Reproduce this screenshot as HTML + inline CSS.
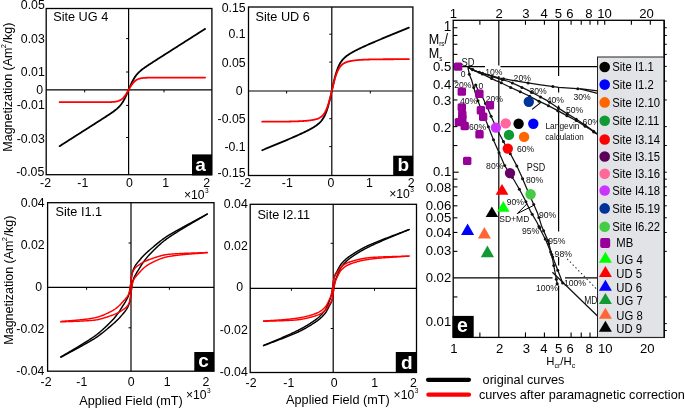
<!DOCTYPE html>
<html><head><meta charset="utf-8"><style>
html,body{margin:0;padding:0;background:#fff;width:685px;height:408px;overflow:hidden}
svg{display:block;font-family:"Liberation Sans", sans-serif;will-change:transform}
</style></head><body>
<svg width="685" height="408" viewBox="0 0 685 408">
<line x1="128.6" y1="8.5" x2="128.6" y2="174.7" stroke="#000" stroke-width="1.2" />
<line x1="46.2" y1="89.9" x2="211.9" y2="89.9" stroke="#000" stroke-width="1.2" />
<line x1="126.1" y1="38.6" x2="128.6" y2="38.6" stroke="#000" stroke-width="1.0" />
<line x1="126.1" y1="72" x2="128.6" y2="72" stroke="#000" stroke-width="1.0" />
<line x1="126.1" y1="105.4" x2="128.6" y2="105.4" stroke="#000" stroke-width="1.0" />
<line x1="126.1" y1="137.5" x2="128.6" y2="137.5" stroke="#000" stroke-width="1.0" />
<line x1="84.7" y1="89.9" x2="84.7" y2="92.4" stroke="#000" stroke-width="1.0" />
<line x1="164" y1="89.9" x2="164" y2="92.4" stroke="#000" stroke-width="1.0" />
<path d="M59.6,146.15 L60.21,145.77 L60.81,145.38 L61.42,144.99 L62.02,144.61 L62.63,144.22 L63.24,143.84 L63.84,143.45 L64.45,143.06 L65.06,142.68 L65.66,142.29 L66.27,141.91 L66.88,141.52 L67.48,141.13 L68.09,140.75 L68.69,140.36 L69.3,139.97 L69.91,139.59 L70.51,139.2 L71.12,138.82 L71.72,138.43 L72.33,138.04 L72.94,137.66 L73.54,137.27 L74.15,136.88 L74.76,136.5 L75.36,136.11 L75.97,135.73 L76.57,135.34 L77.18,134.95 L77.79,134.57 L78.39,134.18 L79,133.8 L79.61,133.41 L80.21,133.02 L80.82,132.64 L81.42,132.25 L82.03,131.86 L82.64,131.48 L83.24,131.09 L83.85,130.71 L84.46,130.32 L85.06,129.93 L85.67,129.55 L86.27,129.16 L86.88,128.77 L87.49,128.39 L88.09,128 L88.7,127.62 L89.31,127.23 L89.91,126.84 L90.52,126.46 L91.12,126.07 L91.73,125.68 L92.34,125.3 L92.94,124.91 L93.55,124.53 L94.16,124.14 L94.76,123.75 L95.37,123.37 L95.97,122.98 L96.58,122.59 L97.19,122.21 L97.79,121.82 L98.4,121.43 L99.01,121.05 L99.61,120.66 L100.22,120.27 L100.82,119.88 L101.43,119.5 L102.04,119.11 L102.64,118.72 L103.25,118.33 L103.86,117.94 L104.46,117.55 L105.07,117.16 L105.67,116.77 L106.28,116.38 L106.89,115.98 L107.49,115.59 L108.1,115.19 L108.71,114.79 L109.31,114.39 L109.92,113.98 L110.52,113.57 L111.13,113.16 L111.74,112.74 L112.34,112.32 L112.95,111.89 L113.56,111.45 L114.16,111.01 L114.77,110.55 L115.38,110.07 L115.98,109.59 L116.59,109.08 L117.19,108.56 L117.8,108 L118.41,107.43 L119.01,106.81 L119.62,106.17 L120.22,105.48 L120.83,104.74 L121.44,103.95 L122.04,103.1 L122.65,102.19 L123.26,101.21 L123.86,100.17 L124.47,99.05 L125.07,97.86 L125.68,96.61 L126.29,95.29 L126.89,93.93 L127.5,92.52 L128.11,91.08 L128.71,89.63 L129.32,88.18 L129.93,86.76 L130.53,85.36 L131.14,84.01 L131.74,82.72 L132.35,81.49 L132.96,80.33 L133.56,79.24 L134.17,78.22 L134.77,77.26 L135.38,76.38 L135.99,75.55 L136.59,74.78 L137.2,74.06 L137.81,73.39 L138.41,72.75 L139.02,72.16 L139.62,71.59 L140.23,71.05 L140.84,70.53 L141.44,70.03 L142.05,69.55 L142.66,69.08 L143.26,68.63 L143.87,68.18 L144.47,67.75 L145.08,67.32 L145.69,66.9 L146.29,66.48 L146.9,66.07 L147.51,65.67 L148.11,65.26 L148.72,64.86 L149.32,64.46 L149.93,64.07 L150.54,63.67 L151.14,63.28 L151.75,62.89 L152.36,62.49 L152.96,62.1 L153.57,61.71 L154.18,61.33 L154.78,60.94 L155.39,60.55 L155.99,60.16 L156.6,59.77 L157.21,59.38 L157.81,59 L158.42,58.61 L159.02,58.22 L159.63,57.84 L160.24,57.45 L160.84,57.06 L161.45,56.68 L162.06,56.29 L162.66,55.9 L163.27,55.52 L163.88,55.13 L164.48,54.74 L165.09,54.36 L165.69,53.97 L166.3,53.59 L166.91,53.2 L167.51,52.81 L168.12,52.43 L168.72,52.04 L169.33,51.65 L169.94,51.27 L170.54,50.88 L171.15,50.5 L171.76,50.11 L172.36,49.72 L172.97,49.34 L173.57,48.95 L174.18,48.56 L174.79,48.18 L175.39,47.79 L176,47.41 L176.61,47.02 L177.21,46.63 L177.82,46.25 L178.43,45.86 L179.03,45.48 L179.64,45.09 L180.24,44.7 L180.85,44.32 L181.46,43.93 L182.06,43.54 L182.67,43.16 L183.27,42.77 L183.88,42.39 L184.49,42 L185.09,41.61 L185.7,41.23 L186.31,40.84 L186.91,40.45 L187.52,40.07 L188.12,39.68 L188.73,39.3 L189.34,38.91 L189.94,38.52 L190.55,38.14 L191.16,37.75 L191.76,37.37 L192.37,36.98 L192.97,36.59 L193.58,36.21 L194.19,35.82 L194.79,35.43 L195.4,35.05 L196.01,34.66 L196.61,34.28 L197.22,33.89 L197.82,33.5 L198.43,33.12 L199.04,32.73 L199.64,32.35 L200.25,31.96 L200.86,31.57 L201.46,31.19 L202.07,30.8 L202.67,30.41 L203.28,30.03 L203.89,29.64 L204.49,29.26 L205.1,28.87" fill="none" stroke="#000" stroke-width="1.8" stroke-linejoin="round" stroke-linecap="round"/>
<path d="M59.6,102.2 L60.21,102.2 L60.81,102.2 L61.42,102.2 L62.02,102.2 L62.63,102.2 L63.24,102.2 L63.84,102.2 L64.45,102.2 L65.06,102.2 L65.66,102.2 L66.27,102.2 L66.88,102.2 L67.48,102.2 L68.09,102.2 L68.69,102.2 L69.3,102.2 L69.91,102.2 L70.51,102.2 L71.12,102.2 L71.72,102.2 L72.33,102.2 L72.94,102.2 L73.54,102.2 L74.15,102.2 L74.76,102.2 L75.36,102.2 L75.97,102.2 L76.57,102.2 L77.18,102.2 L77.79,102.2 L78.39,102.2 L79,102.2 L79.61,102.2 L80.21,102.2 L80.82,102.2 L81.42,102.2 L82.03,102.2 L82.64,102.2 L83.24,102.2 L83.85,102.2 L84.46,102.2 L85.06,102.2 L85.67,102.2 L86.27,102.2 L86.88,102.2 L87.49,102.2 L88.09,102.2 L88.7,102.2 L89.31,102.2 L89.91,102.2 L90.52,102.2 L91.12,102.2 L91.73,102.2 L92.34,102.2 L92.94,102.2 L93.55,102.2 L94.16,102.2 L94.76,102.2 L95.37,102.2 L95.97,102.2 L96.58,102.2 L97.19,102.2 L97.79,102.2 L98.4,102.2 L99.01,102.19 L99.61,102.19 L100.22,102.19 L100.82,102.19 L101.43,102.19 L102.04,102.19 L102.64,102.19 L103.25,102.18 L103.86,102.18 L104.46,102.18 L105.07,102.17 L105.67,102.16 L106.28,102.16 L106.89,102.15 L107.49,102.14 L108.1,102.13 L108.71,102.12 L109.31,102.1 L109.92,102.08 L110.52,102.06 L111.13,102.03 L111.74,102 L112.34,101.97 L112.95,101.92 L113.56,101.87 L114.16,101.81 L114.77,101.74 L115.38,101.65 L115.98,101.55 L116.59,101.43 L117.19,101.29 L117.8,101.12 L118.41,100.93 L119.01,100.71 L119.62,100.44 L120.22,100.14 L120.83,99.79 L121.44,99.39 L122.04,98.92 L122.65,98.4 L123.26,97.81 L123.86,97.15 L124.47,96.42 L125.07,95.62 L125.68,94.75 L126.29,93.82 L126.89,92.84 L127.5,91.82 L128.11,90.77 L128.71,89.7 L129.32,88.64 L129.93,87.6 L130.53,86.59 L131.14,85.63 L131.74,84.72 L132.35,83.88 L132.96,83.1 L133.56,82.4 L134.17,81.76 L134.77,81.2 L135.38,80.7 L135.99,80.26 L136.59,79.87 L137.2,79.54 L137.81,79.25 L138.41,79.01 L139.02,78.79 L139.62,78.61 L140.23,78.46 L140.84,78.32 L141.44,78.21 L142.05,78.12 L142.66,78.04 L143.26,77.97 L143.87,77.91 L144.47,77.86 L145.08,77.82 L145.69,77.79 L146.29,77.76 L146.9,77.73 L147.51,77.71 L148.11,77.69 L148.72,77.68 L149.32,77.67 L149.93,77.66 L150.54,77.65 L151.14,77.64 L151.75,77.63 L152.36,77.63 L152.96,77.62 L153.57,77.62 L154.18,77.62 L154.78,77.61 L155.39,77.61 L155.99,77.61 L156.6,77.61 L157.21,77.61 L157.81,77.61 L158.42,77.6 L159.02,77.6 L159.63,77.6 L160.24,77.6 L160.84,77.6 L161.45,77.6 L162.06,77.6 L162.66,77.6 L163.27,77.6 L163.88,77.6 L164.48,77.6 L165.09,77.6 L165.69,77.6 L166.3,77.6 L166.91,77.6 L167.51,77.6 L168.12,77.6 L168.72,77.6 L169.33,77.6 L169.94,77.6 L170.54,77.6 L171.15,77.6 L171.76,77.6 L172.36,77.6 L172.97,77.6 L173.57,77.6 L174.18,77.6 L174.79,77.6 L175.39,77.6 L176,77.6 L176.61,77.6 L177.21,77.6 L177.82,77.6 L178.43,77.6 L179.03,77.6 L179.64,77.6 L180.24,77.6 L180.85,77.6 L181.46,77.6 L182.06,77.6 L182.67,77.6 L183.27,77.6 L183.88,77.6 L184.49,77.6 L185.09,77.6 L185.7,77.6 L186.31,77.6 L186.91,77.6 L187.52,77.6 L188.12,77.6 L188.73,77.6 L189.34,77.6 L189.94,77.6 L190.55,77.6 L191.16,77.6 L191.76,77.6 L192.37,77.6 L192.97,77.6 L193.58,77.6 L194.19,77.6 L194.79,77.6 L195.4,77.6 L196.01,77.6 L196.61,77.6 L197.22,77.6 L197.82,77.6 L198.43,77.6 L199.04,77.6 L199.64,77.6 L200.25,77.6 L200.86,77.6 L201.46,77.6 L202.07,77.6 L202.67,77.6 L203.28,77.6 L203.89,77.6 L204.49,77.6 L205.1,77.6" fill="none" stroke="#ff0000" stroke-width="1.8" stroke-linejoin="round" stroke-linecap="round"/>
<rect x="46.2" y="8.5" width="165.7" height="166.2" fill="none" stroke="#000" stroke-width="1.3"/>
<text x="44.8" y="9.4" font-size="12.3" text-anchor="end" fill="#000" >0.05</text>
<text x="44.8" y="42.6" font-size="12.3" text-anchor="end" fill="#000" >0.03</text>
<text x="44.8" y="76.1" font-size="12.3" text-anchor="end" fill="#000" >0.01</text>
<text x="43.2" y="94.4" font-size="12.3" text-anchor="end" fill="#000" >0</text>
<text x="44.8" y="109.4" font-size="12.3" text-anchor="end" fill="#000" >-0.01</text>
<text x="44.8" y="143.2" font-size="12.3" text-anchor="end" fill="#000" >-0.03</text>
<text x="44.3" y="176.1" font-size="12.3" text-anchor="end" fill="#000" >-0.05</text>
<text x="45.5" y="187" font-size="12.3" text-anchor="middle" fill="#000" >-2</text>
<text x="82.8" y="187" font-size="12.3" text-anchor="middle" fill="#000" >-1</text>
<text x="129.5" y="187" font-size="12.3" text-anchor="middle" fill="#000" >0</text>
<text x="165.6" y="187" font-size="12.3" text-anchor="middle" fill="#000" >1</text>
<text x="206.6" y="187" font-size="12.3" text-anchor="middle" fill="#000" >2</text>
<text x="183.9" y="198.6" font-size="12.2">×10<tspan font-size="6.5" dx="0.4" dy="-5.9">3</tspan></text>
<text x="53.2" y="21.2" font-size="12.7" text-anchor="start" fill="#000" >Site UG 4</text>
<rect x="192" y="154.4" width="20" height="21" fill="#000" />
<text x="200.6" y="171.1" font-size="19" text-anchor="middle" fill="#fff" font-weight="bold">a</text>
<line x1="331.8" y1="7" x2="331.8" y2="175.5" stroke="#000" stroke-width="1.2" />
<line x1="248.5" y1="91" x2="412.9" y2="91" stroke="#000" stroke-width="1.2" />
<line x1="329.3" y1="34.2" x2="331.8" y2="34.2" stroke="#000" stroke-width="1.0" />
<line x1="329.3" y1="62.1" x2="331.8" y2="62.1" stroke="#000" stroke-width="1.0" />
<line x1="329.3" y1="118.7" x2="331.8" y2="118.7" stroke="#000" stroke-width="1.0" />
<line x1="329.3" y1="146.6" x2="331.8" y2="146.6" stroke="#000" stroke-width="1.0" />
<line x1="286.6" y1="91" x2="286.6" y2="93.5" stroke="#000" stroke-width="1.0" />
<line x1="370.3" y1="91" x2="370.3" y2="93.5" stroke="#000" stroke-width="1.0" />
<path d="M262.2,150.21 L262.81,149.96 L263.42,149.71 L264.03,149.46 L264.64,149.21 L265.26,148.95 L265.87,148.7 L266.48,148.45 L267.09,148.2 L267.7,147.95 L268.31,147.7 L268.92,147.44 L269.54,147.19 L270.15,146.94 L270.76,146.69 L271.37,146.43 L271.98,146.18 L272.59,145.93 L273.2,145.68 L273.81,145.42 L274.43,145.17 L275.04,144.92 L275.65,144.66 L276.26,144.41 L276.87,144.16 L277.48,143.9 L278.09,143.65 L278.7,143.4 L279.31,143.14 L279.93,142.89 L280.54,142.63 L281.15,142.38 L281.76,142.12 L282.37,141.87 L282.98,141.61 L283.59,141.35 L284.21,141.1 L284.82,140.84 L285.43,140.58 L286.04,140.32 L286.65,140.07 L287.26,139.81 L287.87,139.55 L288.48,139.29 L289.1,139.03 L289.71,138.77 L290.32,138.5 L290.93,138.24 L291.54,137.98 L292.15,137.71 L292.76,137.45 L293.37,137.18 L293.99,136.92 L294.6,136.65 L295.21,136.38 L295.82,136.11 L296.43,135.84 L297.04,135.57 L297.65,135.3 L298.26,135.02 L298.88,134.74 L299.49,134.47 L300.1,134.19 L300.71,133.91 L301.32,133.62 L301.93,133.34 L302.54,133.05 L303.15,132.76 L303.76,132.47 L304.38,132.18 L304.99,131.88 L305.6,131.58 L306.21,131.28 L306.82,130.97 L307.43,130.66 L308.04,130.35 L308.66,130.03 L309.27,129.71 L309.88,129.38 L310.49,129.05 L311.1,128.71 L311.71,128.37 L312.32,128.02 L312.93,127.66 L313.55,127.29 L314.16,126.91 L314.77,126.52 L315.38,126.12 L315.99,125.7 L316.6,125.26 L317.21,124.81 L317.82,124.33 L318.44,123.82 L319.05,123.28 L319.66,122.71 L320.27,122.1 L320.88,121.43 L321.49,120.71 L322.1,119.92 L322.71,119.06 L323.32,118.11 L323.94,117.06 L324.55,115.9 L325.16,114.61 L325.77,113.18 L326.38,111.6 L326.99,109.86 L327.6,107.95 L328.22,105.87 L328.83,103.63 L329.44,101.24 L330.05,98.71 L330.66,96.08 L331.27,93.37 L331.88,90.62 L332.49,87.79 L333.11,85.01 L333.72,82.32 L334.33,79.74 L334.94,77.31 L335.55,75.04 L336.16,72.95 L336.77,71.03 L337.38,69.28 L338,67.7 L338.61,66.26 L339.22,64.97 L339.83,63.81 L340.44,62.76 L341.05,61.81 L341.66,60.95 L342.27,60.16 L342.88,59.44 L343.5,58.77 L344.11,58.16 L344.72,57.58 L345.33,57.04 L345.94,56.54 L346.55,56.06 L347.16,55.6 L347.78,55.16 L348.39,54.74 L349,54.34 L349.61,53.94 L350.22,53.56 L350.83,53.19 L351.44,52.83 L352.05,52.48 L352.67,52.13 L353.28,51.79 L353.89,51.46 L354.5,51.13 L355.11,50.81 L355.72,50.49 L356.33,50.18 L356.94,49.87 L357.56,49.56 L358.17,49.26 L358.78,48.95 L359.39,48.66 L360,48.36 L360.61,48.07 L361.22,47.78 L361.83,47.49 L362.44,47.21 L363.06,46.92 L363.67,46.64 L364.28,46.36 L364.89,46.08 L365.5,45.81 L366.11,45.53 L366.72,45.26 L367.34,44.99 L367.95,44.71 L368.56,44.44 L369.17,44.18 L369.78,43.91 L370.39,43.64 L371,43.37 L371.61,43.11 L372.23,42.85 L372.84,42.58 L373.45,42.32 L374.06,42.06 L374.67,41.8 L375.28,41.54 L375.89,41.28 L376.5,41.02 L377.12,40.76 L377.73,40.5 L378.34,40.24 L378.95,39.98 L379.56,39.72 L380.17,39.47 L380.78,39.21 L381.39,38.96 L382,38.7 L382.62,38.44 L383.23,38.19 L383.84,37.93 L384.45,37.68 L385.06,37.42 L385.67,37.17 L386.28,36.92 L386.89,36.66 L387.51,36.41 L388.12,36.16 L388.73,35.9 L389.34,35.65 L389.95,35.4 L390.56,35.14 L391.17,34.89 L391.78,34.64 L392.4,34.39 L393.01,34.13 L393.62,33.88 L394.23,33.63 L394.84,33.38 L395.45,33.12 L396.06,32.87 L396.68,32.62 L397.29,32.37 L397.9,32.12 L398.51,31.87 L399.12,31.61 L399.73,31.36 L400.34,31.11 L400.95,30.86 L401.56,30.61 L402.18,30.36 L402.79,30.11 L403.4,29.85 L404.01,29.6 L404.62,29.35 L405.23,29.1 L405.84,28.85 L406.46,28.6 L407.07,28.35 L407.68,28.1 L408.29,27.85 L408.9,27.59" fill="none" stroke="#000" stroke-width="1.8" stroke-linejoin="round" stroke-linecap="round"/>
<path d="M262.2,121.68 L262.81,121.67 L263.42,121.67 L264.03,121.67 L264.64,121.67 L265.26,121.67 L265.87,121.67 L266.48,121.67 L267.09,121.67 L267.7,121.67 L268.31,121.67 L268.92,121.66 L269.54,121.66 L270.15,121.66 L270.76,121.66 L271.37,121.66 L271.98,121.66 L272.59,121.65 L273.2,121.65 L273.81,121.65 L274.43,121.65 L275.04,121.65 L275.65,121.64 L276.26,121.64 L276.87,121.64 L277.48,121.63 L278.09,121.63 L278.7,121.63 L279.31,121.62 L279.93,121.62 L280.54,121.61 L281.15,121.61 L281.76,121.61 L282.37,121.6 L282.98,121.59 L283.59,121.59 L284.21,121.58 L284.82,121.58 L285.43,121.57 L286.04,121.56 L286.65,121.55 L287.26,121.55 L287.87,121.54 L288.48,121.53 L289.1,121.52 L289.71,121.51 L290.32,121.5 L290.93,121.48 L291.54,121.47 L292.15,121.46 L292.76,121.44 L293.37,121.43 L293.99,121.41 L294.6,121.4 L295.21,121.38 L295.82,121.36 L296.43,121.34 L297.04,121.32 L297.65,121.29 L298.26,121.27 L298.88,121.25 L299.49,121.22 L300.1,121.19 L300.71,121.16 L301.32,121.13 L301.93,121.09 L302.54,121.06 L303.15,121.02 L303.76,120.98 L304.38,120.93 L304.99,120.89 L305.6,120.84 L306.21,120.79 L306.82,120.73 L307.43,120.67 L308.04,120.61 L308.66,120.54 L309.27,120.47 L309.88,120.4 L310.49,120.31 L311.1,120.23 L311.71,120.13 L312.32,120.03 L312.93,119.92 L313.55,119.81 L314.16,119.68 L314.77,119.54 L315.38,119.38 L315.99,119.22 L316.6,119.03 L317.21,118.83 L317.82,118.6 L318.44,118.34 L319.05,118.06 L319.66,117.73 L320.27,117.37 L320.88,116.95 L321.49,116.48 L322.1,115.95 L322.71,115.33 L323.32,114.63 L323.94,113.83 L324.55,112.92 L325.16,111.88 L325.77,110.71 L326.38,109.38 L326.99,107.89 L327.6,106.23 L328.22,104.4 L328.83,102.41 L329.44,100.27 L330.05,97.99 L330.66,95.61 L331.27,93.15 L331.88,90.65 L332.49,88.07 L333.11,85.55 L333.72,83.1 L334.33,80.78 L334.94,78.6 L335.55,76.58 L336.16,74.74 L336.77,73.07 L337.38,71.57 L338,70.24 L338.61,69.05 L339.22,68.02 L339.83,67.1 L340.44,66.3 L341.05,65.6 L341.66,64.99 L342.27,64.45 L342.88,63.98 L343.5,63.57 L344.11,63.2 L344.72,62.88 L345.33,62.59 L345.94,62.34 L346.55,62.11 L347.16,61.9 L347.78,61.71 L348.39,61.54 L349,61.39 L349.61,61.25 L350.22,61.12 L350.83,61 L351.44,60.89 L352.05,60.78 L352.67,60.69 L353.28,60.6 L353.89,60.52 L354.5,60.44 L355.11,60.37 L355.72,60.3 L356.33,60.23 L356.94,60.17 L357.56,60.12 L358.17,60.07 L358.78,60.02 L359.39,59.97 L360,59.92 L360.61,59.88 L361.22,59.84 L361.83,59.81 L362.44,59.77 L363.06,59.74 L363.67,59.71 L364.28,59.68 L364.89,59.65 L365.5,59.62 L366.11,59.6 L366.72,59.58 L367.34,59.55 L367.95,59.53 L368.56,59.51 L369.17,59.5 L369.78,59.48 L370.39,59.46 L371,59.45 L371.61,59.43 L372.23,59.42 L372.84,59.41 L373.45,59.39 L374.06,59.38 L374.67,59.37 L375.28,59.36 L375.89,59.35 L376.5,59.34 L377.12,59.34 L377.73,59.33 L378.34,59.32 L378.95,59.31 L379.56,59.31 L380.17,59.3 L380.78,59.29 L381.39,59.29 L382,59.28 L382.62,59.28 L383.23,59.27 L383.84,59.27 L384.45,59.27 L385.06,59.26 L385.67,59.26 L386.28,59.25 L386.89,59.25 L387.51,59.25 L388.12,59.25 L388.73,59.24 L389.34,59.24 L389.95,59.24 L390.56,59.24 L391.17,59.23 L391.78,59.23 L392.4,59.23 L393.01,59.23 L393.62,59.23 L394.23,59.22 L394.84,59.22 L395.45,59.22 L396.06,59.22 L396.68,59.22 L397.29,59.22 L397.9,59.22 L398.51,59.22 L399.12,59.22 L399.73,59.21 L400.34,59.21 L400.95,59.21 L401.56,59.21 L402.18,59.21 L402.79,59.21 L403.4,59.21 L404.01,59.21 L404.62,59.21 L405.23,59.21 L405.84,59.21 L406.46,59.21 L407.07,59.21 L407.68,59.21 L408.29,59.21 L408.9,59.21" fill="none" stroke="#ff0000" stroke-width="1.8" stroke-linejoin="round" stroke-linecap="round"/>
<rect x="248.5" y="7" width="164.4" height="168.5" fill="none" stroke="#000" stroke-width="1.3"/>
<text x="245.6" y="12.1" font-size="12.3" text-anchor="end" fill="#000" >0.15</text>
<text x="245.6" y="38.1" font-size="12.3" text-anchor="end" fill="#000" >0.1</text>
<text x="245.6" y="66.5" font-size="12.3" text-anchor="end" fill="#000" >0.05</text>
<text x="242.5" y="94.5" font-size="12.3" text-anchor="end" fill="#000" >0</text>
<text x="245.6" y="123.2" font-size="12.3" text-anchor="end" fill="#000" >-0.05</text>
<text x="245.6" y="151.4" font-size="12.3" text-anchor="end" fill="#000" >-0.1</text>
<text x="245.6" y="176.9" font-size="12.3" text-anchor="end" fill="#000" >-0.15</text>
<text x="245.5" y="187.3" font-size="12.3" text-anchor="middle" fill="#000" >-2</text>
<text x="287.3" y="187.3" font-size="12.3" text-anchor="middle" fill="#000" >-1</text>
<text x="331" y="187.3" font-size="12.3" text-anchor="middle" fill="#000" >0</text>
<text x="369.4" y="187.3" font-size="12.3" text-anchor="middle" fill="#000" >1</text>
<text x="411.2" y="187.3" font-size="12.3" text-anchor="middle" fill="#000" >2</text>
<text x="389.2" y="198.3" font-size="12.2">×10<tspan font-size="6.5" dx="0.4" dy="-5.9">3</tspan></text>
<text x="255.5" y="20.9" font-size="12.7" text-anchor="start" fill="#000" >Site UD 6</text>
<rect x="393.2" y="155.7" width="19.8" height="19.8" fill="#000" />
<text x="403.4" y="171.2" font-size="19" text-anchor="middle" fill="#fff" font-weight="bold">b</text>
<line x1="131" y1="202.7" x2="131" y2="371.2" stroke="#000" stroke-width="1.2" />
<line x1="47.6" y1="287.3" x2="214" y2="287.3" stroke="#000" stroke-width="1.2" />
<line x1="128.5" y1="243" x2="131" y2="243" stroke="#000" stroke-width="1.0" />
<line x1="128.5" y1="327.8" x2="131" y2="327.8" stroke="#000" stroke-width="1.0" />
<line x1="86.6" y1="287.3" x2="86.6" y2="289.8" stroke="#000" stroke-width="1.0" />
<line x1="169.4" y1="287.3" x2="169.4" y2="289.8" stroke="#000" stroke-width="1.0" />
<path d="M60.9,356.84 L61.51,356.48 L62.12,356.12 L62.73,355.76 L63.34,355.41 L63.95,355.05 L64.56,354.69 L65.17,354.34 L65.78,353.98 L66.39,353.62 L67,353.27 L67.61,352.91 L68.22,352.56 L68.82,352.2 L69.43,351.85 L70.04,351.49 L70.65,351.13 L71.26,350.78 L71.87,350.42 L72.48,350.06 L73.09,349.71 L73.7,349.35 L74.31,348.99 L74.92,348.63 L75.53,348.27 L76.14,347.91 L76.75,347.54 L77.36,347.18 L77.97,346.82 L78.58,346.45 L79.19,346.08 L79.8,345.72 L80.41,345.35 L81.02,344.98 L81.63,344.61 L82.24,344.23 L82.84,343.86 L83.45,343.48 L84.06,343.1 L84.67,342.72 L85.28,342.34 L85.89,341.96 L86.5,341.57 L87.11,341.18 L87.72,340.79 L88.33,340.4 L88.94,340.01 L89.55,339.61 L90.16,339.21 L90.77,338.81 L91.38,338.41 L91.99,338 L92.6,337.59 L93.21,337.18 L93.82,336.77 L94.43,336.34 L95.04,335.9 L95.65,335.45 L96.26,334.99 L96.87,334.53 L97.48,334.05 L98.08,333.57 L98.69,333.07 L99.3,332.57 L99.91,332.06 L100.52,331.54 L101.13,331.01 L101.74,330.48 L102.35,329.94 L102.96,329.39 L103.57,328.83 L104.18,328.27 L104.79,327.7 L105.4,327.13 L106.01,326.54 L106.62,325.96 L107.23,325.36 L107.84,324.77 L108.45,324.16 L109.06,323.55 L109.67,322.94 L110.28,322.32 L110.89,321.7 L111.5,321.08 L112.11,320.45 L112.71,319.81 L113.32,319.14 L113.93,318.45 L114.54,317.74 L115.15,317 L115.76,316.24 L116.37,315.46 L116.98,314.66 L117.59,313.85 L118.2,313.02 L118.81,312.17 L119.42,311.31 L120.03,310.43 L120.64,309.47 L121.25,308.48 L121.86,307.46 L122.47,306.46 L123.08,305.48 L123.69,304.53 L124.3,303.58 L124.91,302.6 L125.52,301.57 L126.13,300.47 L126.74,299.38 L127.34,298.25 L127.95,296.98 L128.56,295.48 L129.17,293.59 L129.78,290.51 L130.39,286.36 L131,281.28 L131.61,276.25 L132.22,272.89 L132.83,270.92 L133.44,269.38 L134.05,267.98 L134.66,266.74 L135.27,265.68 L135.88,264.76 L136.49,263.91 L137.1,263.12 L137.71,262.37 L138.32,261.64 L138.93,260.92 L139.54,260.19 L140.15,259.46 L140.76,258.74 L141.37,258.03 L141.97,257.34 L142.58,256.68 L143.19,256.04 L143.8,255.42 L144.41,254.81 L145.02,254.21 L145.63,253.62 L146.24,253.05 L146.85,252.48 L147.46,251.92 L148.07,251.37 L148.68,250.84 L149.29,250.31 L149.9,249.79 L150.51,249.27 L151.12,248.75 L151.73,248.23 L152.34,247.71 L152.95,247.2 L153.56,246.68 L154.17,246.16 L154.78,245.65 L155.39,245.14 L156,244.63 L156.6,244.12 L157.21,243.62 L157.82,243.12 L158.43,242.63 L159.04,242.14 L159.65,241.65 L160.26,241.17 L160.87,240.7 L161.48,240.23 L162.09,239.76 L162.7,239.31 L163.31,238.86 L163.92,238.42 L164.53,237.99 L165.14,237.56 L165.75,237.15 L166.36,236.74 L166.97,236.34 L167.58,235.96 L168.19,235.58 L168.8,235.21 L169.41,234.85 L170.02,234.5 L170.62,234.14 L171.23,233.78 L171.84,233.43 L172.45,233.08 L173.06,232.72 L173.67,232.37 L174.28,232.03 L174.89,231.68 L175.5,231.33 L176.11,230.99 L176.72,230.64 L177.33,230.3 L177.94,229.96 L178.55,229.62 L179.16,229.27 L179.77,228.94 L180.38,228.6 L180.99,228.26 L181.6,227.92 L182.21,227.59 L182.82,227.25 L183.43,226.92 L184.04,226.58 L184.65,226.25 L185.25,225.92 L185.86,225.58 L186.47,225.25 L187.08,224.92 L187.69,224.59 L188.3,224.26 L188.91,223.93 L189.52,223.6 L190.13,223.27 L190.74,222.94 L191.35,222.61 L191.96,222.28 L192.57,221.96 L193.18,221.63 L193.79,221.3 L194.4,220.97 L195.01,220.64 L195.62,220.31 L196.23,219.99 L196.84,219.66 L197.45,219.33 L198.06,219 L198.67,218.67 L199.28,218.34 L199.89,218.01 L200.49,217.68 L201.1,217.35 L201.71,217.02 L202.32,216.69 L202.93,216.36 L203.54,216.02 L204.15,215.69 L204.76,215.36 L205.37,215.02 L205.98,214.69 L206.59,214.36 L207.2,214.02" fill="none" stroke="#000" stroke-width="1.45" stroke-linejoin="round" stroke-linecap="round"/>
<path d="M60.9,357.25 L61.51,356.92 L62.12,356.59 L62.73,356.26 L63.34,355.93 L63.95,355.6 L64.56,355.27 L65.17,354.94 L65.78,354.61 L66.39,354.28 L67,353.96 L67.61,353.63 L68.22,353.3 L68.82,352.97 L69.43,352.64 L70.04,352.31 L70.65,351.98 L71.26,351.66 L71.87,351.33 L72.48,351 L73.09,350.67 L73.7,350.34 L74.31,350.01 L74.92,349.68 L75.53,349.34 L76.14,349.01 L76.75,348.68 L77.36,348.35 L77.97,348.01 L78.58,347.68 L79.19,347.35 L79.8,347.01 L80.41,346.67 L81.02,346.34 L81.63,346 L82.24,345.66 L82.84,345.32 L83.45,344.98 L84.06,344.64 L84.67,344.3 L85.28,343.96 L85.89,343.61 L86.5,343.27 L87.11,342.92 L87.72,342.57 L88.33,342.22 L88.94,341.87 L89.55,341.52 L90.16,341.17 L90.77,340.81 L91.38,340.46 L91.99,340.1 L92.6,339.74 L93.21,339.38 L93.82,339.02 L94.43,338.64 L95.04,338.25 L95.65,337.86 L96.26,337.45 L96.87,337.03 L97.48,336.61 L98.08,336.18 L98.69,335.74 L99.3,335.29 L99.91,334.83 L100.52,334.37 L101.13,333.9 L101.74,333.43 L102.35,332.95 L102.96,332.46 L103.57,331.97 L104.18,331.47 L104.79,330.98 L105.4,330.47 L106.01,329.97 L106.62,329.46 L107.23,328.95 L107.84,328.43 L108.45,327.92 L109.06,327.4 L109.67,326.88 L110.28,326.36 L110.89,325.85 L111.5,325.33 L112.11,324.81 L112.71,324.29 L113.32,323.76 L113.93,323.22 L114.54,322.68 L115.15,322.12 L115.76,321.55 L116.37,320.97 L116.98,320.38 L117.59,319.78 L118.2,319.17 L118.81,318.55 L119.42,317.92 L120.03,317.25 L120.64,316.57 L121.25,315.86 L121.86,315.13 L122.47,314.4 L123.08,313.67 L123.69,312.95 L124.3,312.23 L124.91,311.48 L125.52,310.69 L126.13,309.84 L126.74,308.92 L127.34,307.85 L127.95,306.61 L128.56,305.21 L129.17,303.66 L129.78,301.69 L130.39,298.32 L131,293.28 L131.61,288.2 L132.22,284.07 L132.83,280.99 L133.44,279.11 L134.05,277.61 L134.66,276.35 L135.27,275.21 L135.88,274.13 L136.49,273.03 L137.1,271.99 L137.71,271.02 L138.32,270.06 L138.93,269.11 L139.54,268.14 L140.15,267.13 L140.76,266.12 L141.37,265.12 L141.97,264.17 L142.58,263.28 L143.19,262.42 L143.8,261.58 L144.41,260.75 L145.02,259.93 L145.63,259.13 L146.24,258.36 L146.85,257.6 L147.46,256.86 L148.07,256.14 L148.68,255.45 L149.29,254.79 L149.9,254.15 L150.51,253.52 L151.12,252.89 L151.73,252.27 L152.34,251.65 L152.95,251.04 L153.56,250.43 L154.17,249.83 L154.78,249.23 L155.39,248.64 L156,248.05 L156.6,247.47 L157.21,246.9 L157.82,246.33 L158.43,245.76 L159.04,245.21 L159.65,244.66 L160.26,244.12 L160.87,243.58 L161.48,243.06 L162.09,242.54 L162.7,242.03 L163.31,241.53 L163.92,241.03 L164.53,240.55 L165.14,240.07 L165.75,239.6 L166.36,239.15 L166.97,238.7 L167.58,238.26 L168.19,237.83 L168.8,237.41 L169.41,237 L170.02,236.59 L170.62,236.19 L171.23,235.78 L171.84,235.38 L172.45,234.99 L173.06,234.59 L173.67,234.2 L174.28,233.8 L174.89,233.41 L175.5,233.03 L176.11,232.64 L176.72,232.26 L177.33,231.88 L177.94,231.5 L178.55,231.12 L179.16,230.74 L179.77,230.37 L180.38,229.99 L180.99,229.62 L181.6,229.25 L182.21,228.88 L182.82,228.51 L183.43,228.15 L184.04,227.78 L184.65,227.42 L185.25,227.05 L185.86,226.69 L186.47,226.33 L187.08,225.97 L187.69,225.61 L188.3,225.25 L188.91,224.89 L189.52,224.53 L190.13,224.18 L190.74,223.82 L191.35,223.46 L191.96,223.11 L192.57,222.75 L193.18,222.4 L193.79,222.04 L194.4,221.68 L195.01,221.33 L195.62,220.97 L196.23,220.62 L196.84,220.26 L197.45,219.91 L198.06,219.55 L198.67,219.19 L199.28,218.83 L199.89,218.48 L200.49,218.12 L201.1,217.76 L201.71,217.4 L202.32,217.04 L202.93,216.68 L203.54,216.32 L204.15,215.95 L204.76,215.59 L205.37,215.22 L205.98,214.86 L206.59,214.49 L207.2,214.12" fill="none" stroke="#000" stroke-width="1.45" stroke-linejoin="round" stroke-linecap="round"/>
<path d="M60.9,321.44 L61.51,321.39 L62.12,321.34 L62.73,321.29 L63.34,321.24 L63.95,321.19 L64.56,321.14 L65.17,321.09 L65.78,321.04 L66.39,320.99 L67,320.95 L67.61,320.9 L68.22,320.85 L68.82,320.8 L69.43,320.76 L70.04,320.71 L70.65,320.66 L71.26,320.61 L71.87,320.56 L72.48,320.51 L73.09,320.46 L73.7,320.41 L74.31,320.36 L74.92,320.31 L75.53,320.26 L76.14,320.2 L76.75,320.15 L77.36,320.09 L77.97,320.04 L78.58,319.98 L79.19,319.92 L79.8,319.86 L80.41,319.8 L81.02,319.74 L81.63,319.67 L82.24,319.61 L82.84,319.54 L83.45,319.47 L84.06,319.4 L84.67,319.33 L85.28,319.25 L85.89,319.18 L86.5,319.1 L87.11,319.02 L87.72,318.94 L88.33,318.85 L88.94,318.77 L89.55,318.68 L90.16,318.59 L90.77,318.5 L91.38,318.4 L91.99,318.3 L92.6,318.2 L93.21,318.1 L93.82,317.99 L94.43,317.87 L95.04,317.74 L95.65,317.6 L96.26,317.45 L96.87,317.29 L97.48,317.12 L98.08,316.94 L98.69,316.76 L99.3,316.56 L99.91,316.36 L100.52,316.15 L101.13,315.93 L101.74,315.7 L102.35,315.47 L102.96,315.23 L103.57,314.98 L104.18,314.73 L104.79,314.46 L105.4,314.2 L106.01,313.92 L106.62,313.64 L107.23,313.36 L107.84,313.07 L108.45,312.77 L109.06,312.47 L109.67,312.17 L110.28,311.86 L110.89,311.54 L111.5,311.23 L112.11,310.9 L112.71,310.57 L113.32,310.22 L113.93,309.83 L114.54,309.43 L115.15,309 L115.76,308.54 L116.37,308.07 L116.98,307.58 L117.59,307.08 L118.2,306.55 L118.81,306.02 L119.42,305.46 L120.03,304.89 L120.64,304.24 L121.25,303.55 L121.86,302.85 L122.47,302.15 L123.08,301.48 L123.69,300.84 L124.3,300.19 L124.91,299.52 L125.52,298.8 L126.13,298 L126.74,297.22 L127.34,296.4 L127.95,295.44 L128.56,294.25 L129.17,292.67 L129.78,289.89 L130.39,286.06 L131,281.29 L131.61,276.56 L132.22,273.51 L132.83,271.85 L133.44,270.61 L134.05,269.52 L134.66,268.59 L135.27,267.83 L135.88,267.22 L136.49,266.68 L137.1,266.2 L137.71,265.76 L138.32,265.34 L138.93,264.93 L139.54,264.5 L140.15,264.08 L140.76,263.67 L141.37,263.26 L141.97,262.88 L142.58,262.53 L143.19,262.2 L143.8,261.89 L144.41,261.59 L145.02,261.29 L145.63,261.01 L146.24,260.74 L146.85,260.48 L147.46,260.23 L148.07,259.99 L148.68,259.76 L149.29,259.54 L149.9,259.33 L150.51,259.12 L151.12,258.91 L151.73,258.7 L152.34,258.49 L152.95,258.28 L153.56,258.07 L154.17,257.86 L154.78,257.66 L155.39,257.45 L156,257.25 L156.6,257.05 L157.21,256.86 L157.82,256.67 L158.43,256.48 L159.04,256.3 L159.65,256.12 L160.26,255.95 L160.87,255.78 L161.48,255.62 L162.09,255.47 L162.7,255.32 L163.31,255.18 L163.92,255.04 L164.53,254.92 L165.14,254.8 L165.75,254.69 L166.36,254.6 L166.97,254.51 L167.58,254.43 L168.19,254.36 L168.8,254.3 L169.41,254.25 L170.02,254.2 L170.62,254.15 L171.23,254.1 L171.84,254.05 L172.45,254.01 L173.06,253.97 L173.67,253.92 L174.28,253.88 L174.89,253.84 L175.5,253.8 L176.11,253.77 L176.72,253.73 L177.33,253.7 L177.94,253.66 L178.55,253.63 L179.16,253.6 L179.77,253.56 L180.38,253.53 L180.99,253.5 L181.6,253.47 L182.21,253.45 L182.82,253.42 L183.43,253.39 L184.04,253.37 L184.65,253.34 L185.25,253.32 L185.86,253.29 L186.47,253.27 L187.08,253.24 L187.69,253.22 L188.3,253.2 L188.91,253.18 L189.52,253.15 L190.13,253.13 L190.74,253.11 L191.35,253.09 L191.96,253.07 L192.57,253.05 L193.18,253.03 L193.79,253.01 L194.4,252.99 L195.01,252.97 L195.62,252.95 L196.23,252.93 L196.84,252.9 L197.45,252.88 L198.06,252.86 L198.67,252.84 L199.28,252.82 L199.89,252.8 L200.49,252.78 L201.1,252.75 L201.71,252.73 L202.32,252.71 L202.93,252.68 L203.54,252.66 L204.15,252.63 L204.76,252.61 L205.37,252.58 L205.98,252.56 L206.59,252.53 L207.2,252.5" fill="none" stroke="#ff0000" stroke-width="1.45" stroke-linejoin="round" stroke-linecap="round"/>
<path d="M60.9,321.85 L61.51,321.82 L62.12,321.8 L62.73,321.78 L63.34,321.76 L63.95,321.74 L64.56,321.72 L65.17,321.7 L65.78,321.67 L66.39,321.65 L67,321.63 L67.61,321.61 L68.22,321.59 L68.82,321.57 L69.43,321.55 L70.04,321.53 L70.65,321.51 L71.26,321.49 L71.87,321.47 L72.48,321.45 L73.09,321.42 L73.7,321.4 L74.31,321.38 L74.92,321.36 L75.53,321.33 L76.14,321.31 L76.75,321.28 L77.36,321.26 L77.97,321.23 L78.58,321.21 L79.19,321.18 L79.8,321.15 L80.41,321.13 L81.02,321.1 L81.63,321.07 L82.24,321.04 L82.84,321 L83.45,320.97 L84.06,320.94 L84.67,320.9 L85.28,320.87 L85.89,320.83 L86.5,320.8 L87.11,320.76 L87.72,320.72 L88.33,320.68 L88.94,320.63 L89.55,320.59 L90.16,320.54 L90.77,320.5 L91.38,320.45 L91.99,320.4 L92.6,320.35 L93.21,320.3 L93.82,320.24 L94.43,320.17 L95.04,320.09 L95.65,320 L96.26,319.9 L96.87,319.8 L97.48,319.68 L98.08,319.55 L98.69,319.42 L99.3,319.28 L99.91,319.13 L100.52,318.98 L101.13,318.82 L101.74,318.65 L102.35,318.48 L102.96,318.3 L103.57,318.12 L104.18,317.93 L104.79,317.74 L105.4,317.54 L106.01,317.35 L106.62,317.15 L107.23,316.94 L107.84,316.74 L108.45,316.53 L109.06,316.32 L109.67,316.11 L110.28,315.9 L110.89,315.69 L111.5,315.48 L112.11,315.27 L112.71,315.06 L113.32,314.83 L113.93,314.6 L114.54,314.36 L115.15,314.11 L115.76,313.85 L116.37,313.58 L116.98,313.3 L117.59,313.01 L118.2,312.71 L118.81,312.4 L119.42,312.07 L120.03,311.71 L120.64,311.33 L121.25,310.93 L121.86,310.52 L122.47,310.09 L123.08,309.67 L123.69,309.26 L124.3,308.84 L124.91,308.4 L125.52,307.92 L126.13,307.38 L126.74,306.76 L127.34,306.01 L127.95,305.07 L128.56,303.98 L129.17,302.74 L129.78,301.07 L130.39,298.01 L131,293.28 L131.61,288.51 L132.22,284.69 L132.83,281.92 L133.44,280.34 L134.05,279.15 L134.66,278.19 L135.27,277.37 L135.88,276.59 L136.49,275.8 L137.1,275.07 L137.71,274.4 L138.32,273.76 L138.93,273.11 L139.54,272.45 L140.15,271.75 L140.76,271.04 L141.37,270.36 L141.97,269.71 L142.58,269.13 L143.19,268.58 L143.8,268.04 L144.41,267.52 L145.02,267.01 L145.63,266.52 L146.24,266.05 L146.85,265.6 L147.46,265.17 L148.07,264.76 L148.68,264.38 L149.29,264.03 L149.9,263.69 L150.51,263.37 L151.12,263.05 L151.73,262.74 L152.34,262.43 L152.95,262.12 L153.56,261.82 L154.17,261.53 L154.78,261.24 L155.39,260.95 L156,260.67 L156.6,260.4 L157.21,260.13 L157.82,259.87 L158.43,259.62 L159.04,259.37 L159.65,259.13 L160.26,258.89 L160.87,258.67 L161.48,258.45 L162.09,258.24 L162.7,258.04 L163.31,257.84 L163.92,257.66 L164.53,257.48 L165.14,257.31 L165.75,257.15 L166.36,257 L166.97,256.86 L167.58,256.73 L168.19,256.61 L168.8,256.5 L169.41,256.4 L170.02,256.3 L170.62,256.2 L171.23,256.1 L171.84,256.01 L172.45,255.92 L173.06,255.83 L173.67,255.74 L174.28,255.66 L174.89,255.58 L175.5,255.5 L176.11,255.42 L176.72,255.35 L177.33,255.27 L177.94,255.2 L178.55,255.13 L179.16,255.06 L179.77,254.99 L180.38,254.93 L180.99,254.86 L181.6,254.8 L182.21,254.74 L182.82,254.68 L183.43,254.62 L184.04,254.56 L184.65,254.51 L185.25,254.45 L185.86,254.4 L186.47,254.34 L187.08,254.29 L187.69,254.24 L188.3,254.19 L188.91,254.14 L189.52,254.09 L190.13,254.04 L190.74,253.99 L191.35,253.94 L191.96,253.89 L192.57,253.84 L193.18,253.8 L193.79,253.75 L194.4,253.7 L195.01,253.65 L195.62,253.61 L196.23,253.56 L196.84,253.51 L197.45,253.46 L198.06,253.41 L198.67,253.36 L199.28,253.31 L199.89,253.26 L200.49,253.21 L201.1,253.16 L201.71,253.11 L202.32,253.06 L202.93,253 L203.54,252.95 L204.15,252.89 L204.76,252.84 L205.37,252.78 L205.98,252.72 L206.59,252.66 L207.2,252.6" fill="none" stroke="#ff0000" stroke-width="1.45" stroke-linejoin="round" stroke-linecap="round"/>
<rect x="47.6" y="202.7" width="166.4" height="168.5" fill="none" stroke="#000" stroke-width="1.3"/>
<text x="44.6" y="206.6" font-size="12.3" text-anchor="end" fill="#000" >0.04</text>
<text x="44.6" y="248.6" font-size="12.3" text-anchor="end" fill="#000" >0.02</text>
<text x="42" y="290.7" font-size="12.3" text-anchor="end" fill="#000" >0</text>
<text x="44.4" y="332.9" font-size="12.3" text-anchor="end" fill="#000" >-0.02</text>
<text x="44.4" y="375.3" font-size="12.3" text-anchor="end" fill="#000" >-0.04</text>
<text x="46" y="386" font-size="12.3" text-anchor="middle" fill="#000" >-2</text>
<text x="81.8" y="386" font-size="12.3" text-anchor="middle" fill="#000" >-1</text>
<text x="131.1" y="386" font-size="12.3" text-anchor="middle" fill="#000" >0</text>
<text x="167.2" y="386" font-size="12.3" text-anchor="middle" fill="#000" >1</text>
<text x="206" y="386" font-size="12.3" text-anchor="middle" fill="#000" >2</text>
<text x="185.9" y="398.7" font-size="12.2">×10<tspan font-size="6.5" dx="0.4" dy="-5.9">3</tspan></text>
<text x="55.5" y="215.7" font-size="12.7" text-anchor="start" fill="#000" >Site I1.1</text>
<rect x="194.3" y="352" width="19.7" height="19.2" fill="#000" />
<text x="203.5" y="366.9" font-size="19" text-anchor="middle" fill="#fff" font-weight="bold">c</text>
<line x1="333.2" y1="204.3" x2="333.2" y2="372.5" stroke="#000" stroke-width="1.2" />
<line x1="250.2" y1="288.3" x2="416.5" y2="288.3" stroke="#000" stroke-width="1.2" />
<line x1="330.7" y1="243.3" x2="333.2" y2="243.3" stroke="#000" stroke-width="1.0" />
<line x1="330.7" y1="328.5" x2="333.2" y2="328.5" stroke="#000" stroke-width="1.0" />
<line x1="291.4" y1="288.3" x2="291.4" y2="290.8" stroke="#000" stroke-width="1.0" />
<line x1="374.5" y1="288.3" x2="374.5" y2="290.8" stroke="#000" stroke-width="1.0" />
<path d="M263.6,345.38 L264.21,345.13 L264.81,344.87 L265.42,344.62 L266.02,344.37 L266.63,344.12 L267.24,343.87 L267.84,343.62 L268.45,343.37 L269.05,343.12 L269.66,342.87 L270.26,342.62 L270.87,342.37 L271.48,342.12 L272.08,341.86 L272.69,341.61 L273.29,341.36 L273.9,341.11 L274.5,340.86 L275.11,340.61 L275.72,340.36 L276.32,340.1 L276.93,339.85 L277.53,339.59 L278.14,339.34 L278.75,339.09 L279.35,338.83 L279.96,338.57 L280.56,338.32 L281.17,338.06 L281.77,337.8 L282.38,337.54 L282.99,337.28 L283.59,337.02 L284.2,336.75 L284.8,336.49 L285.41,336.23 L286.02,335.96 L286.62,335.69 L287.23,335.42 L287.83,335.15 L288.44,334.88 L289.04,334.61 L289.65,334.34 L290.26,334.06 L290.86,333.79 L291.47,333.51 L292.07,333.23 L292.68,332.95 L293.29,332.66 L293.89,332.38 L294.5,332.09 L295.1,331.8 L295.71,331.51 L296.31,331.21 L296.92,330.91 L297.53,330.61 L298.13,330.31 L298.74,330 L299.34,329.68 L299.95,329.37 L300.56,329.05 L301.16,328.72 L301.77,328.4 L302.37,328.07 L302.98,327.73 L303.58,327.39 L304.19,327.05 L304.8,326.7 L305.4,326.35 L306.01,325.99 L306.61,325.63 L307.22,325.27 L307.83,324.9 L308.43,324.52 L309.04,324.14 L309.64,323.76 L310.25,323.37 L310.86,322.98 L311.46,322.58 L312.07,322.18 L312.67,321.77 L313.28,321.35 L313.88,320.93 L314.49,320.51 L315.1,320.08 L315.7,319.64 L316.31,319.2 L316.91,318.74 L317.52,318.26 L318.12,317.76 L318.73,317.23 L319.34,316.67 L319.94,316.09 L320.55,315.49 L321.15,314.85 L321.76,314.19 L322.37,313.5 L322.97,312.77 L323.58,312.02 L324.18,311.23 L324.79,310.42 L325.39,309.55 L326,308.52 L326.61,307.34 L327.21,306.04 L327.82,304.65 L328.42,303.18 L329.03,301.68 L329.64,300.18 L330.24,298.64 L330.85,296.9 L331.45,294.68 L332.06,291.61 L332.66,287.8 L333.27,283.22 L333.88,278.71 L334.48,276.39 L335.09,274.84 L335.69,273.62 L336.3,272.56 L336.91,271.49 L337.51,270.35 L338.12,269.19 L338.72,268.03 L339.33,266.9 L339.94,265.84 L340.54,264.88 L341.15,264.05 L341.75,263.34 L342.36,262.66 L342.96,262 L343.57,261.37 L344.18,260.76 L344.78,260.17 L345.39,259.61 L345.99,259.07 L346.6,258.55 L347.2,258.05 L347.81,257.57 L348.42,257.11 L349.02,256.66 L349.63,256.24 L350.23,255.83 L350.84,255.43 L351.45,255.03 L352.05,254.63 L352.66,254.24 L353.26,253.86 L353.87,253.47 L354.47,253.09 L355.08,252.71 L355.69,252.34 L356.29,251.97 L356.9,251.6 L357.5,251.24 L358.11,250.88 L358.72,250.53 L359.32,250.17 L359.93,249.83 L360.53,249.48 L361.14,249.15 L361.75,248.81 L362.35,248.48 L362.96,248.15 L363.56,247.83 L364.17,247.51 L364.77,247.2 L365.38,246.89 L365.99,246.59 L366.59,246.29 L367.2,245.99 L367.8,245.7 L368.41,245.42 L369.01,245.14 L369.62,244.86 L370.23,244.59 L370.83,244.33 L371.44,244.07 L372.04,243.81 L372.65,243.56 L373.26,243.31 L373.86,243.07 L374.47,242.82 L375.07,242.57 L375.68,242.33 L376.28,242.08 L376.89,241.84 L377.5,241.6 L378.1,241.36 L378.71,241.12 L379.31,240.88 L379.92,240.64 L380.53,240.4 L381.13,240.16 L381.74,239.93 L382.34,239.69 L382.95,239.45 L383.55,239.22 L384.16,238.99 L384.77,238.75 L385.37,238.52 L385.98,238.29 L386.58,238.06 L387.19,237.82 L387.8,237.59 L388.4,237.36 L389.01,237.13 L389.61,236.9 L390.22,236.67 L390.82,236.44 L391.43,236.22 L392.04,235.99 L392.64,235.76 L393.25,235.53 L393.85,235.3 L394.46,235.07 L395.07,234.85 L395.67,234.62 L396.28,234.39 L396.88,234.16 L397.49,233.93 L398.09,233.71 L398.7,233.48 L399.31,233.25 L399.91,233.02 L400.52,232.8 L401.12,232.57 L401.73,232.34 L402.34,232.11 L402.94,231.88 L403.55,231.65 L404.15,231.42 L404.76,231.19 L405.36,230.96 L405.97,230.73 L406.58,230.5 L407.18,230.27 L407.79,230.04 L408.39,229.8 L409,229.57" fill="none" stroke="#000" stroke-width="1.45" stroke-linejoin="round" stroke-linecap="round"/>
<path d="M263.6,345.63 L264.21,345.4 L264.81,345.17 L265.42,344.94 L266.02,344.71 L266.63,344.48 L267.24,344.25 L267.84,344.02 L268.45,343.8 L269.05,343.57 L269.66,343.34 L270.26,343.11 L270.87,342.88 L271.48,342.65 L272.08,342.43 L272.69,342.2 L273.29,341.97 L273.9,341.74 L274.5,341.51 L275.11,341.28 L275.72,341.05 L276.32,340.82 L276.93,340.59 L277.53,340.36 L278.14,340.13 L278.75,339.9 L279.35,339.67 L279.96,339.44 L280.56,339.2 L281.17,338.97 L281.77,338.74 L282.38,338.5 L282.99,338.27 L283.59,338.03 L284.2,337.8 L284.8,337.56 L285.41,337.32 L286.02,337.08 L286.62,336.85 L287.23,336.61 L287.83,336.36 L288.44,336.12 L289.04,335.88 L289.65,335.64 L290.26,335.39 L290.86,335.15 L291.47,334.9 L292.07,334.65 L292.68,334.41 L293.29,334.16 L293.89,333.91 L294.5,333.65 L295.1,333.4 L295.71,333.13 L296.31,332.87 L296.92,332.59 L297.53,332.31 L298.13,332.03 L298.74,331.74 L299.34,331.45 L299.95,331.15 L300.56,330.85 L301.16,330.54 L301.77,330.23 L302.37,329.91 L302.98,329.59 L303.58,329.26 L304.19,328.93 L304.8,328.6 L305.4,328.26 L306.01,327.91 L306.61,327.56 L307.22,327.21 L307.83,326.86 L308.43,326.5 L309.04,326.13 L309.64,325.76 L310.25,325.39 L310.86,325.01 L311.46,324.64 L312.07,324.25 L312.67,323.87 L313.28,323.47 L313.88,323.08 L314.49,322.68 L315.1,322.28 L315.7,321.88 L316.31,321.47 L316.91,321.05 L317.52,320.62 L318.12,320.16 L318.73,319.69 L319.34,319.19 L319.94,318.68 L320.55,318.15 L321.15,317.59 L321.76,317.01 L322.37,316.41 L322.97,315.78 L323.58,315.13 L324.18,314.46 L324.79,313.75 L325.39,313.01 L326,312.12 L326.61,311.12 L327.21,310.01 L327.82,308.85 L328.42,307.65 L329.03,306.46 L329.64,305.31 L330.24,304.23 L330.85,303.12 L331.45,301.81 L332.06,300.09 L332.66,297.4 L333.27,292.28 L333.88,287.8 L334.48,284.31 L335.09,281.52 L335.69,279.5 L336.3,277.87 L336.91,276.39 L337.51,274.92 L338.12,273.46 L338.72,272.05 L339.33,270.71 L339.94,269.46 L340.54,268.35 L341.15,267.38 L341.75,266.55 L342.36,265.76 L342.96,265 L343.57,264.27 L344.18,263.57 L344.78,262.9 L345.39,262.25 L345.99,261.64 L346.6,261.05 L347.2,260.48 L347.81,259.94 L348.42,259.43 L349.02,258.94 L349.63,258.47 L350.23,258.03 L350.84,257.59 L351.45,257.16 L352.05,256.74 L352.66,256.32 L353.26,255.91 L353.87,255.5 L354.47,255.1 L355.08,254.71 L355.69,254.31 L356.29,253.93 L356.9,253.54 L357.5,253.17 L358.11,252.79 L358.72,252.42 L359.32,252.06 L359.93,251.7 L360.53,251.35 L361.14,250.99 L361.75,250.65 L362.35,250.31 L362.96,249.97 L363.56,249.63 L364.17,249.3 L364.77,248.97 L365.38,248.65 L365.99,248.33 L366.59,248.02 L367.2,247.7 L367.8,247.39 L368.41,247.09 L369.01,246.79 L369.62,246.49 L370.23,246.19 L370.83,245.9 L371.44,245.61 L372.04,245.32 L372.65,245.04 L373.26,244.76 L373.86,244.48 L374.47,244.2 L375.07,243.92 L375.68,243.64 L376.28,243.37 L376.89,243.1 L377.5,242.82 L378.1,242.55 L378.71,242.28 L379.31,242.02 L379.92,241.75 L380.53,241.49 L381.13,241.22 L381.74,240.96 L382.34,240.7 L382.95,240.44 L383.55,240.18 L384.16,239.92 L384.77,239.66 L385.37,239.4 L385.98,239.14 L386.58,238.89 L387.19,238.63 L387.8,238.38 L388.4,238.13 L389.01,237.87 L389.61,237.62 L390.22,237.37 L390.82,237.12 L391.43,236.87 L392.04,236.61 L392.64,236.36 L393.25,236.11 L393.85,235.86 L394.46,235.61 L395.07,235.36 L395.67,235.11 L396.28,234.87 L396.88,234.62 L397.49,234.37 L398.09,234.12 L398.7,233.87 L399.31,233.62 L399.91,233.37 L400.52,233.12 L401.12,232.87 L401.73,232.62 L402.34,232.37 L402.94,232.12 L403.55,231.86 L404.15,231.61 L404.76,231.36 L405.36,231.1 L405.97,230.85 L406.58,230.6 L407.18,230.34 L407.79,230.08 L408.39,229.83 L409,229.57" fill="none" stroke="#000" stroke-width="1.45" stroke-linejoin="round" stroke-linecap="round"/>
<path d="M263.6,321.02 L264.21,320.98 L264.81,320.94 L265.42,320.9 L266.02,320.86 L266.63,320.82 L267.24,320.78 L267.84,320.74 L268.45,320.7 L269.05,320.67 L269.66,320.63 L270.26,320.59 L270.87,320.55 L271.48,320.51 L272.08,320.47 L272.69,320.43 L273.29,320.4 L273.9,320.36 L274.5,320.32 L275.11,320.28 L275.72,320.24 L276.32,320.2 L276.93,320.15 L277.53,320.11 L278.14,320.07 L278.75,320.03 L279.35,319.98 L279.96,319.94 L280.56,319.89 L281.17,319.85 L281.77,319.8 L282.38,319.75 L282.99,319.7 L283.59,319.65 L284.2,319.6 L284.8,319.55 L285.41,319.5 L286.02,319.45 L286.62,319.39 L287.23,319.33 L287.83,319.28 L288.44,319.22 L289.04,319.16 L289.65,319.1 L290.26,319.03 L290.86,318.97 L291.47,318.9 L292.07,318.83 L292.68,318.76 L293.29,318.69 L293.89,318.62 L294.5,318.54 L295.1,318.47 L295.71,318.39 L296.31,318.3 L296.92,318.22 L297.53,318.13 L298.13,318.03 L298.74,317.93 L299.34,317.83 L299.95,317.73 L300.56,317.62 L301.16,317.51 L301.77,317.4 L302.37,317.28 L302.98,317.15 L303.58,317.03 L304.19,316.89 L304.8,316.76 L305.4,316.62 L306.01,316.47 L306.61,316.33 L307.22,316.17 L307.83,316.02 L308.43,315.85 L309.04,315.69 L309.64,315.51 L310.25,315.34 L310.86,315.16 L311.46,314.97 L312.07,314.78 L312.67,314.58 L313.28,314.38 L313.88,314.17 L314.49,313.96 L315.1,313.74 L315.7,313.52 L316.31,313.29 L316.91,313.04 L317.52,312.77 L318.12,312.48 L318.73,312.16 L319.34,311.82 L319.94,311.45 L320.55,311.06 L321.15,310.63 L321.76,310.18 L322.37,309.7 L322.97,309.19 L323.58,308.65 L324.18,308.08 L324.79,307.47 L325.39,306.82 L326,306 L326.61,305.03 L327.21,303.95 L327.82,302.76 L328.42,301.51 L329.03,300.22 L329.64,298.93 L330.24,297.61 L330.85,296.07 L331.45,294.06 L332.06,291.21 L332.66,287.61 L333.27,283.25 L333.88,278.95 L334.48,276.84 L335.09,275.5 L335.69,274.49 L336.3,273.64 L336.91,272.79 L337.51,271.86 L338.12,270.91 L338.72,269.96 L339.33,269.05 L339.94,268.2 L340.54,267.45 L341.15,266.83 L341.75,266.33 L342.36,265.86 L342.96,265.42 L343.57,265 L344.18,264.6 L344.78,264.23 L345.39,263.88 L345.99,263.55 L346.6,263.24 L347.2,262.95 L347.81,262.68 L348.42,262.43 L349.02,262.2 L349.63,261.99 L350.23,261.79 L350.84,261.6 L351.45,261.42 L352.05,261.23 L352.66,261.05 L353.26,260.88 L353.87,260.71 L354.47,260.54 L355.08,260.37 L355.69,260.21 L356.29,260.05 L356.9,259.9 L357.5,259.75 L358.11,259.6 L358.72,259.46 L359.32,259.32 L359.93,259.18 L360.53,259.05 L361.14,258.92 L361.75,258.8 L362.35,258.68 L362.96,258.57 L363.56,258.46 L364.17,258.35 L364.77,258.25 L365.38,258.16 L365.99,258.06 L366.59,257.98 L367.2,257.89 L367.8,257.82 L368.41,257.74 L369.01,257.67 L369.62,257.61 L370.23,257.55 L370.83,257.5 L371.44,257.45 L372.04,257.41 L372.65,257.37 L373.26,257.33 L373.86,257.3 L374.47,257.26 L375.07,257.23 L375.68,257.2 L376.28,257.16 L376.89,257.13 L377.5,257.1 L378.1,257.07 L378.71,257.04 L379.31,257.02 L379.92,256.99 L380.53,256.96 L381.13,256.94 L381.74,256.91 L382.34,256.89 L382.95,256.87 L383.55,256.84 L384.16,256.82 L384.77,256.8 L385.37,256.78 L385.98,256.76 L386.58,256.74 L387.19,256.72 L387.8,256.7 L388.4,256.68 L389.01,256.67 L389.61,256.65 L390.22,256.63 L390.82,256.61 L391.43,256.6 L392.04,256.58 L392.64,256.56 L393.25,256.55 L393.85,256.53 L394.46,256.51 L395.07,256.5 L395.67,256.48 L396.28,256.47 L396.88,256.45 L397.49,256.44 L398.09,256.42 L398.7,256.4 L399.31,256.39 L399.91,256.37 L400.52,256.36 L401.12,256.34 L401.73,256.32 L402.34,256.31 L402.94,256.29 L403.55,256.27 L404.15,256.26 L404.76,256.24 L405.36,256.22 L405.97,256.2 L406.58,256.18 L407.18,256.16 L407.79,256.14 L408.39,256.12 L409,256.1" fill="none" stroke="#ff0000" stroke-width="1.45" stroke-linejoin="round" stroke-linecap="round"/>
<path d="M263.6,321.27 L264.21,321.25 L264.81,321.23 L265.42,321.21 L266.02,321.2 L266.63,321.18 L267.24,321.16 L267.84,321.15 L268.45,321.13 L269.05,321.12 L269.66,321.1 L270.26,321.08 L270.87,321.07 L271.48,321.05 L272.08,321.04 L272.69,321.02 L273.29,321 L273.9,320.99 L274.5,320.97 L275.11,320.95 L275.72,320.93 L276.32,320.92 L276.93,320.9 L277.53,320.88 L278.14,320.86 L278.75,320.84 L279.35,320.82 L279.96,320.8 L280.56,320.78 L281.17,320.76 L281.77,320.74 L282.38,320.72 L282.99,320.69 L283.59,320.67 L284.2,320.65 L284.8,320.62 L285.41,320.6 L286.02,320.57 L286.62,320.54 L287.23,320.52 L287.83,320.49 L288.44,320.46 L289.04,320.43 L289.65,320.39 L290.26,320.36 L290.86,320.33 L291.47,320.3 L292.07,320.26 L292.68,320.22 L293.29,320.19 L293.89,320.15 L294.5,320.11 L295.1,320.06 L295.71,320.01 L296.31,319.96 L296.92,319.89 L297.53,319.83 L298.13,319.76 L298.74,319.68 L299.34,319.6 L299.95,319.51 L300.56,319.42 L301.16,319.33 L301.77,319.23 L302.37,319.12 L302.98,319.01 L303.58,318.9 L304.19,318.78 L304.8,318.65 L305.4,318.53 L306.01,318.4 L306.61,318.26 L307.22,318.12 L307.83,317.97 L308.43,317.83 L309.04,317.67 L309.64,317.52 L310.25,317.36 L310.86,317.19 L311.46,317.03 L312.07,316.86 L312.67,316.68 L313.28,316.5 L313.88,316.32 L314.49,316.14 L315.1,315.95 L315.7,315.76 L316.31,315.56 L316.91,315.35 L317.52,315.13 L318.12,314.88 L318.73,314.62 L319.34,314.34 L319.94,314.04 L320.55,313.72 L321.15,313.37 L321.76,313.01 L322.37,312.62 L322.97,312.2 L323.58,311.76 L324.18,311.3 L324.79,310.81 L325.39,310.28 L326,309.61 L326.61,308.81 L327.21,307.92 L327.82,306.97 L328.42,305.98 L329.03,305 L329.64,304.06 L330.24,303.2 L330.85,302.3 L331.45,301.2 L332.06,299.69 L332.66,297.21 L333.27,292.31 L333.88,288.03 L334.48,284.76 L335.09,282.18 L335.69,280.37 L336.3,278.95 L336.91,277.69 L337.51,276.43 L338.12,275.18 L338.72,273.98 L339.33,272.85 L339.94,271.82 L340.54,270.92 L341.15,270.16 L341.75,269.55 L342.36,268.96 L342.96,268.42 L343.57,267.9 L344.18,267.41 L344.78,266.95 L345.39,266.52 L345.99,266.11 L346.6,265.74 L347.2,265.38 L347.81,265.06 L348.42,264.76 L349.02,264.48 L349.63,264.22 L350.23,263.99 L350.84,263.77 L351.45,263.55 L352.05,263.34 L352.66,263.13 L353.26,262.93 L353.87,262.74 L354.47,262.55 L355.08,262.36 L355.69,262.18 L356.29,262.01 L356.9,261.84 L357.5,261.67 L358.11,261.51 L358.72,261.36 L359.32,261.2 L359.93,261.06 L360.53,260.91 L361.14,260.77 L361.75,260.64 L362.35,260.51 L362.96,260.38 L363.56,260.26 L364.17,260.14 L364.77,260.03 L365.38,259.91 L365.99,259.81 L366.59,259.7 L367.2,259.6 L367.8,259.51 L368.41,259.41 L369.01,259.32 L369.62,259.24 L370.23,259.15 L370.83,259.07 L371.44,258.99 L372.04,258.92 L372.65,258.85 L373.26,258.78 L373.86,258.71 L374.47,258.64 L375.07,258.57 L375.68,258.51 L376.28,258.45 L376.89,258.39 L377.5,258.33 L378.1,258.27 L378.71,258.21 L379.31,258.16 L379.92,258.1 L380.53,258.05 L381.13,258 L381.74,257.95 L382.34,257.9 L382.95,257.85 L383.55,257.8 L384.16,257.75 L384.77,257.71 L385.37,257.66 L385.98,257.62 L386.58,257.57 L387.19,257.53 L387.8,257.49 L388.4,257.45 L389.01,257.41 L389.61,257.36 L390.22,257.32 L390.82,257.28 L391.43,257.25 L392.04,257.21 L392.64,257.17 L393.25,257.13 L393.85,257.09 L394.46,257.05 L395.07,257.02 L395.67,256.98 L396.28,256.94 L396.88,256.91 L397.49,256.87 L398.09,256.83 L398.7,256.79 L399.31,256.76 L399.91,256.72 L400.52,256.68 L401.12,256.64 L401.73,256.6 L402.34,256.56 L402.94,256.52 L403.55,256.48 L404.15,256.44 L404.76,256.4 L405.36,256.36 L405.97,256.32 L406.58,256.28 L407.18,256.23 L407.79,256.19 L408.39,256.15 L409,256.1" fill="none" stroke="#ff0000" stroke-width="1.45" stroke-linejoin="round" stroke-linecap="round"/>
<rect x="250.2" y="204.3" width="166.3" height="168.2" fill="none" stroke="#000" stroke-width="1.3"/>
<text x="247.8" y="208.2" font-size="12.3" text-anchor="end" fill="#000" >0.04</text>
<text x="247.8" y="249.7" font-size="12.3" text-anchor="end" fill="#000" >0.02</text>
<text x="243" y="291.3" font-size="12.3" text-anchor="end" fill="#000" >0</text>
<text x="247.8" y="334.1" font-size="12.3" text-anchor="end" fill="#000" >-0.02</text>
<text x="247.8" y="376.4" font-size="12.3" text-anchor="end" fill="#000" >-0.04</text>
<text x="251" y="386.6" font-size="12.3" text-anchor="middle" fill="#000" >-2</text>
<text x="288.8" y="386.6" font-size="12.3" text-anchor="middle" fill="#000" >-1</text>
<text x="334.1" y="386.6" font-size="12.3" text-anchor="middle" fill="#000" >0</text>
<text x="374.7" y="386.6" font-size="12.3" text-anchor="middle" fill="#000" >1</text>
<text x="413.3" y="386.6" font-size="12.3" text-anchor="middle" fill="#000" >2</text>
<text x="393.6" y="398.7" font-size="12.2">×10<tspan font-size="6.5" dx="0.4" dy="-5.9">3</tspan></text>
<text x="257.4" y="218.5" font-size="12.7" text-anchor="start" fill="#000" >Site I2.11</text>
<rect x="395.8" y="352" width="21.2" height="21" fill="#000" />
<text x="406.7" y="368.7" font-size="19" text-anchor="middle" fill="#fff" font-weight="bold">d</text>
<text transform="translate(11.6,151.7) rotate(-90)" font-size="12.5">Magnetization (Am<tspan font-size="7.5" dx="-0.8" dy="-6">2</tspan><tspan dx="0.6" dy="6">/kg)</tspan></text>
<text transform="translate(12.9,344.7) rotate(-90)" font-size="12.5">Magnetization (Am<tspan font-size="7.5" dx="-0.8" dy="-6">2</tspan><tspan dx="0.6" dy="6">/kg)</tspan></text>
<text x="79.2" y="404.5" font-size="12.7" text-anchor="start" fill="#000" >Applied Field (mT)</text>
<text x="286.1" y="404.3" font-size="12.7" text-anchor="start" fill="#000" >Applied Field (mT)</text>
<line x1="498.81" y1="20.3" x2="498.81" y2="337.4" stroke="#000" stroke-width="1.2" />
<line x1="558.6" y1="20.3" x2="558.6" y2="337.4" stroke="#000" stroke-width="1.2" />
<line x1="453.2" y1="66.6" x2="597.5" y2="66.6" stroke="#000" stroke-width="1.2" />
<line x1="453.2" y1="277.8" x2="597.5" y2="277.8" stroke="#000" stroke-width="1.2" />
<rect x="485" y="65.5" width="15.5" height="10.5" fill="#fff" />
<rect x="552.5" y="265.5" width="12.5" height="20" fill="#fff" />
<rect x="550" y="231.5" width="14" height="25.5" fill="#fff" />
<rect x="552" y="76" width="14" height="11" fill="#fff" />
<rect x="549" y="92.5" width="18" height="13" fill="#fff" />
<text transform="translate(463.2,76.93) scale(0.88,1)" font-size="9.8" text-anchor="middle" fill="#111">0</text>
<text transform="translate(462.9,87.93) scale(0.88,1)" font-size="9.8" text-anchor="middle" fill="#111">20%</text>
<text transform="translate(468.6,104.43) scale(0.88,1)" font-size="9.8" text-anchor="middle" fill="#111">40%</text>
<text transform="translate(477.6,130.13) scale(0.88,1)" font-size="9.8" text-anchor="middle" fill="#111">60%</text>
<text transform="translate(494.7,168.83) scale(0.88,1)" font-size="9.8" text-anchor="middle" fill="#111">80%</text>
<text transform="translate(515.3,205.43) scale(0.88,1)" font-size="9.8" text-anchor="middle" fill="#111">90%</text>
<text transform="translate(530.6,234.23) scale(0.88,1)" font-size="9.8" text-anchor="middle" fill="#111">95%</text>
<text transform="translate(547,291.33) scale(0.88,1)" font-size="9.8" text-anchor="middle" fill="#111">100%</text>
<text transform="translate(480.9,89.43) scale(0.88,1)" font-size="9.8" text-anchor="middle" fill="#111">0</text>
<text transform="translate(494.4,102.13) scale(0.88,1)" font-size="9.8" text-anchor="middle" fill="#111">20%</text>
<text transform="translate(525.5,152.13) scale(0.88,1)" font-size="9.8" text-anchor="middle" fill="#111">60%</text>
<text transform="translate(534.5,182.93) scale(0.88,1)" font-size="9.8" text-anchor="middle" fill="#111">80%</text>
<text transform="translate(547.6,217.73) scale(0.88,1)" font-size="9.8" text-anchor="middle" fill="#111">90%</text>
<text transform="translate(556.9,243.73) scale(0.88,1)" font-size="9.8" text-anchor="middle" fill="#111">95%</text>
<text transform="translate(563.2,257.33) scale(0.88,1)" font-size="9.8" text-anchor="middle" fill="#111">98%</text>
<text transform="translate(574.9,285.83) scale(0.88,1)" font-size="9.8" text-anchor="middle" fill="#111">100%</text>
<text transform="translate(493.8,74.73) scale(0.88,1)" font-size="9.8" text-anchor="middle" fill="#111">10%</text>
<text transform="translate(522.2,80.53) scale(0.88,1)" font-size="9.8" text-anchor="middle" fill="#111">20%</text>
<text transform="translate(538.1,93.83) scale(0.88,1)" font-size="9.8" text-anchor="middle" fill="#111">30%</text>
<text transform="translate(555.4,102.83) scale(0.88,1)" font-size="9.8" text-anchor="middle" fill="#111">40%</text>
<text transform="translate(574.5,112.53) scale(0.88,1)" font-size="9.8" text-anchor="middle" fill="#111">50%</text>
<text transform="translate(591.2,125.33) scale(0.88,1)" font-size="9.8" text-anchor="middle" fill="#111">60%</text>
<text transform="translate(582,99.83) scale(0.88,1)" font-size="9.8" text-anchor="middle" fill="#111">30%</text>
<text transform="translate(468,65.97) scale(0.92,1)" font-size="10.2" text-anchor="middle" fill="#111">SD</text>
<text transform="translate(535.9,170.9) scale(0.9,1)" font-size="10" text-anchor="middle" fill="#111">PSD</text>
<text transform="translate(590.8,303.9) scale(0.85,1)" font-size="10" text-anchor="middle" fill="#111">MD</text>
<text transform="translate(514.3,221.63) scale(0.87,1)" font-size="9.8" text-anchor="middle" fill="#111">SD+MD</text>
<text transform="translate(545.4,129) scale(0.86,1)" font-size="9.8" fill="#111">Langevin</text>
<text transform="translate(545.3,139.5) scale(0.83,1)" font-size="9.8" fill="#111">calculation</text>
<path d="M467.9,67.4 L474.7,70.8 L484.5,73.8 L500,78.1 L520,81.7 L539,84.7 L558.8,87.4 L583.8,89.2 L597.5,90.8" fill="none" stroke="#111" stroke-width="1.25" stroke-linejoin="round" />
<path d="M580,88.9 L597.5,93.3" fill="none" stroke="#111" stroke-width="1.25" stroke-linejoin="round" />
<path d="M467.9,67.4 L474.7,70.8 L484.5,73.9 L500,79.1 L508.8,81.5 L517.6,85.4 L527.2,89.9 L536.8,95 L546.3,100.1 L555.9,106.5 L565.4,112.6 L576.5,119.3 L588.2,127.3 L597.5,134" fill="none" stroke="#111" stroke-width="1.25" stroke-linejoin="round" />
<path d="M467.9,67.4 L484.1,74.9 L495.8,80.6 L500,82.2 L508.1,86.2 L517.6,90.6 L527.2,95 L536.8,100.1 L546.3,104.6 L555.9,109.6 L565.4,114.9 L576.5,120.7 L588.2,128.1 L597.5,134.6" fill="none" stroke="#111" stroke-width="1.25" stroke-linejoin="round" />
<path d="M467.9,67.4 L469.4,74.7 L471.8,80.6 L474.3,89.5 L476.5,97 L480.1,106.5 L486.3,121.6 L494.1,141.4 L500.1,155.1 L504.4,165.1 L509,172.5 L514,180 L519.5,189.5 L524.6,199 L530.8,211.9 L536.9,222.3 L540.6,230 L546.1,240.7 L551.7,254.5 L557.2,283.9" fill="none" stroke="#111" stroke-width="1.25" stroke-linejoin="round" />
<path d="M475.7,85 L478.7,91.4 L482.7,97.5 L487.3,107.5 L491.5,117.3 L498.4,132 L505,144.5 L511.2,155.3 L516.4,165.1 L521,175 L528.3,192.3 L533.2,203.3 L537.5,213.1 L541.8,226.6 L548,240.7 L551.7,254.5 L562.7,283" fill="none" stroke="#111" stroke-width="1.25" stroke-linejoin="round" />
<path d="M552.4,272.2 L597.5,316" fill="none" stroke="#111" stroke-width="1.25" stroke-linejoin="round" />
<line x1="567.1" y1="258.8" x2="597" y2="289.5" stroke="#333" stroke-width="1.1" stroke-dasharray="1.5,2.5"/>
<line x1="532.1" y1="109.4" x2="541" y2="102.4" stroke="#000" stroke-width="1.1" />
<line x1="517.3" y1="213.6" x2="527" y2="203.8" stroke="#000" stroke-width="1.0" />
<line x1="517.3" y1="213.6" x2="532.9" y2="205.8" stroke="#000" stroke-width="1.0" />
<circle cx="479.38" cy="72.23" r="1.5" fill="#111"/>
<circle cx="503.51" cy="78.73" r="1.5" fill="#111"/>
<circle cx="528.14" cy="82.99" r="1.5" fill="#111"/>
<circle cx="552.88" cy="86.59" r="1.5" fill="#111"/>
<circle cx="577.77" cy="88.77" r="1.5" fill="#111"/>
<circle cx="472.6" cy="69.75" r="1.5" fill="#111"/>
<circle cx="482.47" cy="73.26" r="1.5" fill="#111"/>
<circle cx="492.43" cy="76.56" r="1.5" fill="#111"/>
<circle cx="502.43" cy="79.76" r="1.5" fill="#111"/>
<circle cx="512.36" cy="83.08" r="1.5" fill="#111"/>
<circle cx="521.92" cy="87.43" r="1.5" fill="#111"/>
<circle cx="531.32" cy="92.09" r="1.5" fill="#111"/>
<circle cx="540.59" cy="97.03" r="1.5" fill="#111"/>
<circle cx="549.64" cy="102.33" r="1.5" fill="#111"/>
<circle cx="558.41" cy="108.11" r="1.5" fill="#111"/>
<circle cx="567.27" cy="113.73" r="1.5" fill="#111"/>
<circle cx="576.26" cy="119.16" r="1.5" fill="#111"/>
<circle cx="584.94" cy="125.07" r="1.5" fill="#111"/>
<circle cx="593.52" cy="131.13" r="1.5" fill="#111"/>
<circle cx="472.66" cy="69.61" r="1.5" fill="#111"/>
<circle cx="482.19" cy="74.02" r="1.5" fill="#111"/>
<circle cx="491.65" cy="78.58" r="1.5" fill="#111"/>
<circle cx="501.25" cy="82.82" r="1.5" fill="#111"/>
<circle cx="510.69" cy="87.4" r="1.5" fill="#111"/>
<circle cx="520.22" cy="91.8" r="1.5" fill="#111"/>
<circle cx="529.7" cy="96.33" r="1.5" fill="#111"/>
<circle cx="539.02" cy="101.15" r="1.5" fill="#111"/>
<circle cx="548.47" cy="105.73" r="1.5" fill="#111"/>
<circle cx="557.75" cy="110.63" r="1.5" fill="#111"/>
<circle cx="566.94" cy="115.71" r="1.5" fill="#111"/>
<circle cx="576.25" cy="120.57" r="1.5" fill="#111"/>
<circle cx="585.13" cy="126.16" r="1.5" fill="#111"/>
<circle cx="593.83" cy="132.04" r="1.5" fill="#111"/>
<circle cx="469.31" cy="74.26" r="1.5" fill="#111"/>
<circle cx="473.74" cy="87.51" r="1.5" fill="#111"/>
<circle cx="477.96" cy="100.85" r="1.5" fill="#111"/>
<circle cx="483.12" cy="113.86" r="1.5" fill="#111"/>
<circle cx="488.37" cy="126.84" r="1.5" fill="#111"/>
<circle cx="493.5" cy="139.87" r="1.5" fill="#111"/>
<circle cx="499.06" cy="152.72" r="1.5" fill="#111"/>
<circle cx="504.67" cy="165.54" r="1.5" fill="#111"/>
<circle cx="512.22" cy="177.33" r="1.5" fill="#111"/>
<circle cx="519.4" cy="189.33" r="1.5" fill="#111"/>
<circle cx="525.91" cy="201.73" r="1.5" fill="#111"/>
<circle cx="532.17" cy="214.24" r="1.5" fill="#111"/>
<circle cx="538.92" cy="226.5" r="1.5" fill="#111"/>
<circle cx="545.22" cy="238.99" r="1.5" fill="#111"/>
<circle cx="550.64" cy="251.9" r="1.5" fill="#111"/>
<circle cx="553.76" cy="265.5" r="1.5" fill="#111"/>
<circle cx="556.33" cy="279.26" r="1.5" fill="#111"/>
<circle cx="478.67" cy="91.34" r="1.5" fill="#111"/>
<circle cx="485.47" cy="103.53" r="1.5" fill="#111"/>
<circle cx="491.09" cy="116.35" r="1.5" fill="#111"/>
<circle cx="497.01" cy="129.04" r="1.5" fill="#111"/>
<circle cx="503.41" cy="141.49" r="1.5" fill="#111"/>
<circle cx="510.27" cy="153.69" r="1.5" fill="#111"/>
<circle cx="516.84" cy="166.05" r="1.5" fill="#111"/>
<circle cx="522.61" cy="178.8" r="1.5" fill="#111"/>
<circle cx="528.05" cy="191.7" r="1.5" fill="#111"/>
<circle cx="533.73" cy="204.5" r="1.5" fill="#111"/>
<circle cx="538.9" cy="217.49" r="1.5" fill="#111"/>
<circle cx="543.59" cy="230.66" r="1.5" fill="#111"/>
<circle cx="548.79" cy="243.63" r="1.5" fill="#111"/>
<circle cx="552.69" cy="257.07" r="1.5" fill="#111"/>
<circle cx="557.73" cy="270.13" r="1.5" fill="#111"/>
<circle cx="551.7" cy="254.5" r="1.6" fill="#111"/>
<circle cx="557.2" cy="283.9" r="1.6" fill="#111"/>
<circle cx="562.7" cy="283" r="1.6" fill="#111"/>
<circle cx="475.7" cy="85" r="1.6" fill="#111"/>
<circle cx="539.7" cy="227.9" r="1.6" fill="#111"/>
<circle cx="548" cy="240.7" r="1.6" fill="#111"/>
<rect x="453.9" y="62.4" width="8.4" height="8.4" rx="1.6" fill="#990099"/>
<rect x="457.6" y="87.4" width="8.4" height="8.4" rx="1.6" fill="#990099"/>
<rect x="475.2" y="89.6" width="8.4" height="8.4" rx="1.6" fill="#990099"/>
<rect x="485.7" y="101" width="8.4" height="8.4" rx="1.6" fill="#990099"/>
<rect x="457.6" y="103.2" width="8.4" height="8.4" rx="1.6" fill="#990099"/>
<rect x="458.1" y="110.5" width="8.4" height="8.4" rx="1.6" fill="#990099"/>
<rect x="458.1" y="114.4" width="8.4" height="8.4" rx="1.6" fill="#990099"/>
<rect x="454.7" y="117.9" width="8.4" height="8.4" rx="1.6" fill="#990099"/>
<rect x="460.5" y="121.8" width="8.4" height="8.4" rx="1.6" fill="#990099"/>
<rect x="476.7" y="106.1" width="8.4" height="8.4" rx="1.6" fill="#990099"/>
<rect x="479" y="112.5" width="8.4" height="8.4" rx="1.6" fill="#990099"/>
<rect x="475.3" y="130.1" width="8.4" height="8.4" rx="1.6" fill="#990099"/>
<rect x="463" y="156.7" width="8.4" height="8.4" rx="1.6" fill="#990099"/>
<circle cx="495.9" cy="127.6" r="5.2" fill="#cc33ff"/>
<circle cx="505.7" cy="123.4" r="5.2" fill="#ff6699"/>
<circle cx="518.6" cy="123.7" r="5.2" fill="#000"/>
<circle cx="533.3" cy="123.7" r="5.2" fill="#0000ff"/>
<circle cx="528.8" cy="101.8" r="5.2" fill="#003399"/>
<circle cx="509" cy="134.9" r="5.2" fill="#119933"/>
<circle cx="524.1" cy="136.9" r="5.2" fill="#ff6600"/>
<circle cx="507.8" cy="148.6" r="5.2" fill="#ff0000"/>
<circle cx="510" cy="173.1" r="5.2" fill="#660066"/>
<circle cx="530.6" cy="194.3" r="5.2" fill="#44cc44"/>
<path d="M502,183.9 L508.4,194.7 L495.6,194.7 Z" fill="#ff0000"/>
<path d="M503.3,200.9 L509.55,211.7 L497.05,211.7 Z" fill="#00ff00"/>
<path d="M491.9,206.4 L498.15,217 L485.65,217 Z" fill="#000"/>
<path d="M467.6,223.6 L474.15,234.9 L461.05,234.9 Z" fill="#0000ff"/>
<path d="M484.4,226.9 L490.9,238.5 L477.9,238.5 Z" fill="#ff6633"/>
<path d="M487.4,245.6 L494.05,257.3 L480.75,257.3 Z" fill="#119933"/>
<rect x="453.2" y="20.3" width="211" height="317.1" fill="none" stroke="#000" stroke-width="1.3"/>
<line x1="453.2" y1="27.73" x2="457.4" y2="27.73" stroke="#000" stroke-width="1.1" />
<line x1="664.2" y1="27.73" x2="666.8" y2="27.73" stroke="#000" stroke-width="1.0" />
<line x1="453.2" y1="35.47" x2="457.4" y2="35.47" stroke="#000" stroke-width="1.1" />
<line x1="664.2" y1="35.47" x2="666.8" y2="35.47" stroke="#000" stroke-width="1.0" />
<line x1="453.2" y1="44.25" x2="457.4" y2="44.25" stroke="#000" stroke-width="1.1" />
<line x1="664.2" y1="44.25" x2="666.8" y2="44.25" stroke="#000" stroke-width="1.0" />
<line x1="453.2" y1="54.39" x2="457.4" y2="54.39" stroke="#000" stroke-width="1.1" />
<line x1="664.2" y1="54.39" x2="666.8" y2="54.39" stroke="#000" stroke-width="1.0" />
<line x1="453.2" y1="81.05" x2="457.4" y2="81.05" stroke="#000" stroke-width="1.1" />
<line x1="664.2" y1="81.05" x2="666.8" y2="81.05" stroke="#000" stroke-width="1.0" />
<line x1="453.2" y1="99.96" x2="457.4" y2="99.96" stroke="#000" stroke-width="1.1" />
<line x1="664.2" y1="99.96" x2="666.8" y2="99.96" stroke="#000" stroke-width="1.0" />
<line x1="453.2" y1="126.62" x2="457.4" y2="126.62" stroke="#000" stroke-width="1.1" />
<line x1="664.2" y1="126.62" x2="666.8" y2="126.62" stroke="#000" stroke-width="1.0" />
<line x1="453.2" y1="145.54" x2="457.4" y2="145.54" stroke="#000" stroke-width="1.1" />
<line x1="664.2" y1="145.54" x2="666.8" y2="145.54" stroke="#000" stroke-width="1.0" />
<line x1="453.2" y1="172.2" x2="458.7" y2="172.2" stroke="#000" stroke-width="1.1" />
<line x1="664.2" y1="172.2" x2="666.8" y2="172.2" stroke="#000" stroke-width="1.0" />
<line x1="453.2" y1="179.13" x2="457.4" y2="179.13" stroke="#000" stroke-width="1.1" />
<line x1="664.2" y1="179.13" x2="666.8" y2="179.13" stroke="#000" stroke-width="1.0" />
<line x1="453.2" y1="186.87" x2="457.4" y2="186.87" stroke="#000" stroke-width="1.1" />
<line x1="664.2" y1="186.87" x2="666.8" y2="186.87" stroke="#000" stroke-width="1.0" />
<line x1="453.2" y1="195.65" x2="457.4" y2="195.65" stroke="#000" stroke-width="1.1" />
<line x1="664.2" y1="195.65" x2="666.8" y2="195.65" stroke="#000" stroke-width="1.0" />
<line x1="453.2" y1="205.79" x2="457.4" y2="205.79" stroke="#000" stroke-width="1.1" />
<line x1="664.2" y1="205.79" x2="666.8" y2="205.79" stroke="#000" stroke-width="1.0" />
<line x1="453.2" y1="217.78" x2="457.4" y2="217.78" stroke="#000" stroke-width="1.1" />
<line x1="664.2" y1="217.78" x2="666.8" y2="217.78" stroke="#000" stroke-width="1.0" />
<line x1="453.2" y1="232.45" x2="457.4" y2="232.45" stroke="#000" stroke-width="1.1" />
<line x1="664.2" y1="232.45" x2="666.8" y2="232.45" stroke="#000" stroke-width="1.0" />
<line x1="453.2" y1="251.36" x2="457.4" y2="251.36" stroke="#000" stroke-width="1.1" />
<line x1="664.2" y1="251.36" x2="666.8" y2="251.36" stroke="#000" stroke-width="1.0" />
<line x1="453.2" y1="296.94" x2="457.4" y2="296.94" stroke="#000" stroke-width="1.1" />
<line x1="664.2" y1="296.94" x2="666.8" y2="296.94" stroke="#000" stroke-width="1.0" />
<line x1="453.2" y1="323.6" x2="458.7" y2="323.6" stroke="#000" stroke-width="1.1" />
<line x1="664.2" y1="323.6" x2="666.8" y2="323.6" stroke="#000" stroke-width="1.0" />
<line x1="453.2" y1="330.53" x2="457.4" y2="330.53" stroke="#000" stroke-width="1.1" />
<line x1="664.2" y1="330.53" x2="666.8" y2="330.53" stroke="#000" stroke-width="1.0" />
<line x1="664.2" y1="66.38" x2="666.8" y2="66.38" stroke="#000" stroke-width="1.0" />
<line x1="479.88" y1="20.3" x2="479.88" y2="24.8" stroke="#000" stroke-width="1.1" />
<line x1="479.88" y1="337.4" x2="479.88" y2="332.4" stroke="#000" stroke-width="1.1" />
<line x1="525.48" y1="20.3" x2="525.48" y2="24.8" stroke="#000" stroke-width="1.1" />
<line x1="525.48" y1="337.4" x2="525.48" y2="332.4" stroke="#000" stroke-width="1.1" />
<line x1="544.41" y1="20.3" x2="544.41" y2="24.8" stroke="#000" stroke-width="1.1" />
<line x1="544.41" y1="337.4" x2="544.41" y2="332.4" stroke="#000" stroke-width="1.1" />
<line x1="571.09" y1="20.3" x2="571.09" y2="24.8" stroke="#000" stroke-width="1.1" />
<line x1="571.09" y1="337.4" x2="571.09" y2="332.4" stroke="#000" stroke-width="1.1" />
<line x1="581.23" y1="20.3" x2="581.23" y2="24.8" stroke="#000" stroke-width="1.1" />
<line x1="581.23" y1="337.4" x2="581.23" y2="332.4" stroke="#000" stroke-width="1.1" />
<line x1="590.02" y1="20.3" x2="590.02" y2="24.8" stroke="#000" stroke-width="1.1" />
<line x1="590.02" y1="337.4" x2="590.02" y2="332.4" stroke="#000" stroke-width="1.1" />
<line x1="597.77" y1="20.3" x2="597.77" y2="24.8" stroke="#000" stroke-width="1.1" />
<line x1="604.7" y1="20.3" x2="604.7" y2="24.8" stroke="#000" stroke-width="1.1" />
<line x1="631.38" y1="20.3" x2="631.38" y2="24.8" stroke="#000" stroke-width="1.1" />
<line x1="650.31" y1="20.3" x2="650.31" y2="24.8" stroke="#000" stroke-width="1.1" />
<text transform="translate(453.5,17.57) scale(1.05,1)" font-size="12.5" text-anchor="middle">1</text>
<text transform="translate(499.2,17.57) scale(1.05,1)" font-size="12.5" text-anchor="middle">2</text>
<text transform="translate(525.8,17.57) scale(1.05,1)" font-size="12.5" text-anchor="middle">3</text>
<text transform="translate(544.2,17.57) scale(1.05,1)" font-size="12.5" text-anchor="middle">4</text>
<text transform="translate(558.4,17.57) scale(1.05,1)" font-size="12.5" text-anchor="middle">5</text>
<text transform="translate(569.8,17.57) scale(1.05,1)" font-size="12.5" text-anchor="middle">6</text>
<text transform="translate(588.8,17.57) scale(1.05,1)" font-size="12.5" text-anchor="middle">8</text>
<text transform="translate(604.5,17.57) scale(1.05,1)" font-size="12.5" text-anchor="middle">10</text>
<text transform="translate(646.6,17.57) scale(1.05,1)" font-size="12.5" text-anchor="middle">20</text>
<text transform="translate(453.8,353.28) scale(1.05,1)" font-size="12.5" text-anchor="middle">1</text>
<text transform="translate(499.7,353.28) scale(1.05,1)" font-size="12.5" text-anchor="middle">2</text>
<text transform="translate(526.5,353.28) scale(1.05,1)" font-size="12.5" text-anchor="middle">3</text>
<text transform="translate(544,353.28) scale(1.05,1)" font-size="12.5" text-anchor="middle">4</text>
<text transform="translate(558.6,353.28) scale(1.05,1)" font-size="12.5" text-anchor="middle">5</text>
<text transform="translate(570.1,353.28) scale(1.05,1)" font-size="12.5" text-anchor="middle">6</text>
<text transform="translate(589.1,353.28) scale(1.05,1)" font-size="12.5" text-anchor="middle">8</text>
<text transform="translate(605.2,353.28) scale(1.05,1)" font-size="12.5" text-anchor="middle">10</text>
<text transform="translate(647.3,353.28) scale(1.05,1)" font-size="12.5" text-anchor="middle">20</text>
<text transform="translate(451.3,31.17) scale(0.9,1)" font-size="15" text-anchor="end">1</text>
<text transform="translate(451.2,70.57) scale(1.05,1)" font-size="12.5" text-anchor="end">0.5</text>
<text transform="translate(451.2,89.07) scale(1.05,1)" font-size="12.5" text-anchor="end">0.4</text>
<text transform="translate(451.2,105.38) scale(1.05,1)" font-size="12.5" text-anchor="end">0.3</text>
<text transform="translate(451.2,131.68) scale(1.05,1)" font-size="12.5" text-anchor="end">0.2</text>
<text transform="translate(451.2,176.38) scale(1.05,1)" font-size="12.5" text-anchor="end">0.1</text>
<text transform="translate(451.2,192.28) scale(1.05,1)" font-size="12.5" text-anchor="end">0.08</text>
<text transform="translate(451.2,209.88) scale(1.05,1)" font-size="12.5" text-anchor="end">0.06</text>
<text transform="translate(451.2,222.28) scale(1.05,1)" font-size="12.5" text-anchor="end">0.05</text>
<text transform="translate(451.2,237.17) scale(1.05,1)" font-size="12.5" text-anchor="end">0.04</text>
<text transform="translate(451.2,255.28) scale(1.05,1)" font-size="12.5" text-anchor="end">0.03</text>
<text transform="translate(451.2,282.08) scale(1.05,1)" font-size="12.5" text-anchor="end">0.02</text>
<text transform="translate(451.2,325.78) scale(1.05,1)" font-size="12.5" text-anchor="end">0.01</text>
<text transform="translate(428.8,43.6) scale(0.9,1)" font-size="14">M<tspan font-size="7" dy="2.8">rs</tspan><tspan dy="-2.8">/</tspan></text>
<text transform="translate(428.8,58.0) scale(0.9,1)" font-size="14">M<tspan font-size="7" dy="2.8">s</tspan></text>
<text x="546.3" y="365" font-size="11.3">H<tspan font-size="7" dy="3">cr</tspan><tspan dy="-3">/H</tspan><tspan font-size="7" dy="3">c</tspan></text>
<rect x="597.5" y="57" width="66.7" height="280.4" fill="#e2e3e6" stroke="#222" stroke-width="1.0"/>
<line x1="664.2" y1="20.3" x2="664.2" y2="337.4" stroke="#000" stroke-width="1.3" />
<circle cx="604.7" cy="67" r="5.3" fill="#000"/>
<text transform="translate(612.3,71.26) scale(0.95,1)" font-size="11.9">Site I1.1</text>
<circle cx="604.7" cy="84.6" r="5.3" fill="#0000ff"/>
<text transform="translate(612.3,88.86) scale(0.95,1)" font-size="11.9">Site I1.2</text>
<circle cx="604.7" cy="102.4" r="5.3" fill="#ff6600"/>
<text transform="translate(612.3,106.66) scale(0.95,1)" font-size="11.9">Site I2.10</text>
<circle cx="604.7" cy="120.8" r="5.3" fill="#119933"/>
<text transform="translate(612.3,125.06) scale(0.95,1)" font-size="11.9">Site I2.11</text>
<circle cx="604.7" cy="139.5" r="5.3" fill="#ff0000"/>
<text transform="translate(612.3,143.76) scale(0.95,1)" font-size="11.9">Site I3.14</text>
<circle cx="604.7" cy="156.5" r="5.3" fill="#5c005c"/>
<text transform="translate(612.3,160.76) scale(0.95,1)" font-size="11.9">Site I3.15</text>
<circle cx="604.7" cy="173.8" r="5.3" fill="#ff6699"/>
<text transform="translate(612.3,178.06) scale(0.95,1)" font-size="11.9">Site I3.16</text>
<circle cx="604.7" cy="190.5" r="5.3" fill="#cc33ff"/>
<text transform="translate(612.3,194.76) scale(0.95,1)" font-size="11.9">Site I4.18</text>
<circle cx="604.7" cy="208.4" r="5.3" fill="#003399"/>
<text transform="translate(612.3,212.66) scale(0.95,1)" font-size="11.9">Site I5.19</text>
<circle cx="604.7" cy="226.8" r="5.3" fill="#44cc44"/>
<text transform="translate(612.3,231.06) scale(0.95,1)" font-size="11.9">Site I6.22</text>
<rect x="600.2" y="238.1" width="10" height="9.8" rx="1.8" fill="#990099"/>
<text transform="translate(616.3,246.66) scale(0.95,1)" font-size="11.9">MB</text>
<path d="M605.4,251.8 L611.9,262.8 L598.9,262.8 Z" fill="#00ff00"/>
<text transform="translate(616.3,263.56) scale(0.95,1)" font-size="11.9">UG 4</text>
<path d="M605.4,265.9 L611.9,276.9 L598.9,276.9 Z" fill="#ff0000"/>
<text transform="translate(616.3,277.66) scale(0.95,1)" font-size="11.9">UD 5</text>
<path d="M605.4,279.8 L611.9,290.8 L598.9,290.8 Z" fill="#0000ff"/>
<text transform="translate(616.3,291.56) scale(0.95,1)" font-size="11.9">UD 6</text>
<path d="M605.4,293 L611.9,304 L598.9,304 Z" fill="#119933"/>
<text transform="translate(616.3,304.76) scale(0.95,1)" font-size="11.9">UG 7</text>
<path d="M605.4,307.8 L611.9,318.8 L598.9,318.8 Z" fill="#ff6633"/>
<text transform="translate(616.3,319.56) scale(0.95,1)" font-size="11.9">UG 8</text>
<path d="M605.4,320.8 L611.9,331.8 L598.9,331.8 Z" fill="#000"/>
<text transform="translate(616.3,332.56) scale(0.95,1)" font-size="11.9">UD 9</text>
<rect x="452.5" y="315.9" width="21.2" height="21.6" fill="#000" />
<text x="462.4" y="332" font-size="19.5" text-anchor="middle" fill="#fff" font-weight="bold">e</text>
<line x1="428" y1="379.8" x2="469" y2="379.8" stroke="#000" stroke-width="4.2" stroke-linecap="round"/>
<line x1="428.4" y1="394.7" x2="469" y2="394.7" stroke="#ff0000" stroke-width="4.2" stroke-linecap="round"/>
<text x="482.6" y="383.9" font-size="12.7" text-anchor="start" fill="#000" >original curves</text>
<text x="478.9" y="398.5" font-size="12.7" text-anchor="start" fill="#000" >curves after paramagnetic correction</text>
</svg>
</body></html>
